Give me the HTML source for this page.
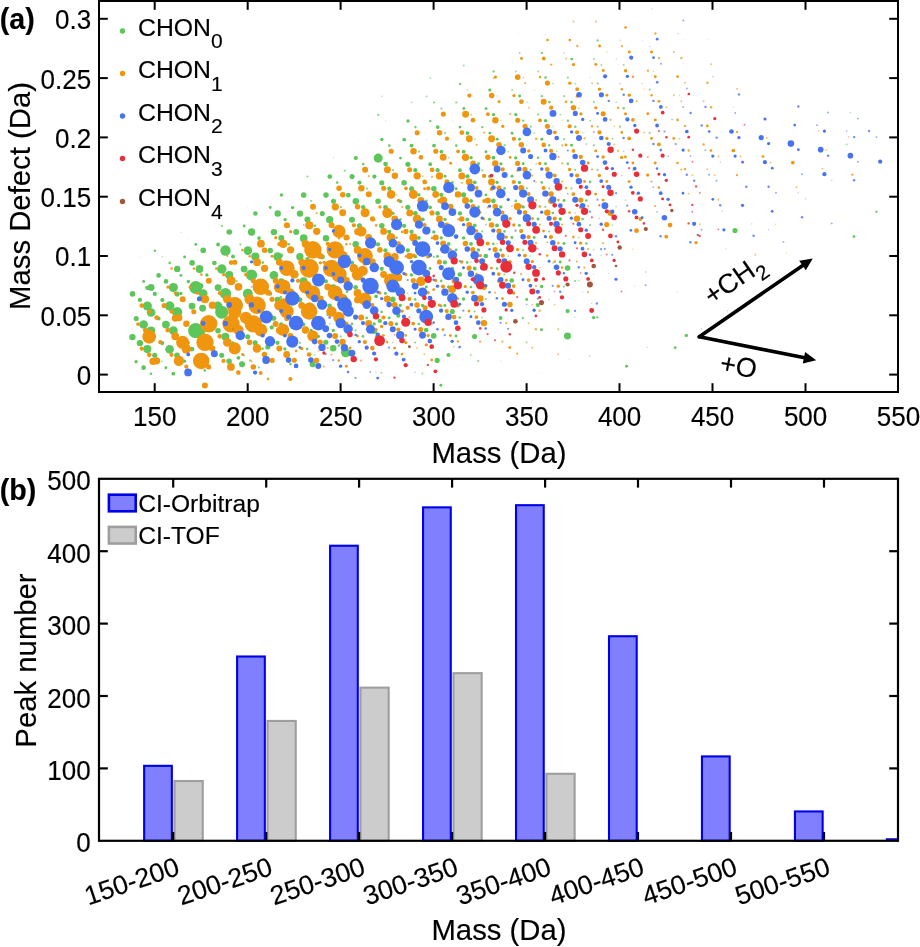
<!DOCTYPE html>
<html lang="en"><head><meta charset="utf-8"><title>Mass defect plot</title>
<style>html,body{margin:0;padding:0;background:#fff;}body{width:920px;height:947px;overflow:hidden;}svg{display:block;}text{font-family:'Liberation Sans', Arial, Helvetica, sans-serif;fill:#000;stroke:#000;stroke-width:0.15px;}</style>
</head><body>
<svg width="920" height="947" viewBox="0 0 920 947">
<rect x="-5" y="-5" width="930" height="957" fill="#ffffff"/>
<g style="filter:blur(0.55px)">
<rect x="-5" y="-5" width="930" height="957" fill="#ffffff"/>
<g id="scatter">
<circle cx="195.7" cy="330.7" r="7.59" fill="#5cc65a"/>
<circle cx="221.7" cy="312.2" r="6.50" fill="#5cc65a"/>
<circle cx="195.7" cy="287.5" r="6.50" fill="#5cc65a"/>
<circle cx="225.5" cy="293.6" r="5.63" fill="#5cc65a"/>
<circle cx="251.5" cy="275.1" r="5.63" fill="#5cc65a"/>
<circle cx="177.1" cy="312.1" r="5.19" fill="#5cc65a"/>
<circle cx="225.5" cy="250.5" r="5.19" fill="#5cc65a"/>
<circle cx="247.8" cy="293.7" r="4.97" fill="#5cc65a"/>
<circle cx="345.7" cy="352.6" r="4.76" fill="#5cc65a"/>
<circle cx="169.7" cy="306.0" r="4.76" fill="#5cc65a"/>
<circle cx="221.8" cy="269.0" r="4.76" fill="#5cc65a"/>
<circle cx="147.4" cy="306.0" r="4.54" fill="#5cc65a"/>
<circle cx="173.4" cy="287.5" r="4.54" fill="#5cc65a"/>
<circle cx="378.2" cy="158.1" r="4.54" fill="#5cc65a"/>
<circle cx="143.6" cy="324.5" r="4.32" fill="#5cc65a"/>
<circle cx="151.1" cy="312.5" r="4.32" fill="#5cc65a"/>
<circle cx="173.4" cy="330.6" r="4.32" fill="#5cc65a"/>
<circle cx="169.6" cy="349.2" r="4.32" fill="#5cc65a"/>
<circle cx="247.9" cy="250.6" r="4.32" fill="#5cc65a"/>
<circle cx="203.2" cy="293.6" r="4.32" fill="#5cc65a"/>
<circle cx="218.0" cy="305.7" r="4.32" fill="#5cc65a"/>
<circle cx="273.9" cy="275.2" r="4.32" fill="#5cc65a"/>
<circle cx="277.6" cy="256.6" r="4.32" fill="#5cc65a"/>
<circle cx="151.1" cy="330.6" r="4.10" fill="#5cc65a"/>
<circle cx="147.3" cy="349.1" r="4.10" fill="#5cc65a"/>
<circle cx="255.3" cy="256.6" r="4.10" fill="#5cc65a"/>
<circle cx="229.2" cy="275.1" r="4.10" fill="#5cc65a"/>
<circle cx="165.9" cy="324.6" r="3.88" fill="#5cc65a"/>
<circle cx="225.4" cy="336.7" r="3.88" fill="#5cc65a"/>
<circle cx="199.5" cy="269.0" r="3.88" fill="#5cc65a"/>
<circle cx="303.7" cy="238.2" r="3.88" fill="#5cc65a"/>
<circle cx="303.6" cy="281.2" r="3.88" fill="#5cc65a"/>
<circle cx="251.6" cy="232.0" r="3.66" fill="#5cc65a"/>
<circle cx="299.9" cy="256.7" r="3.66" fill="#5cc65a"/>
<circle cx="329.7" cy="219.7" r="3.66" fill="#5cc65a"/>
<circle cx="567.5" cy="336.1" r="3.49" fill="#5cc65a"/>
<circle cx="201.7" cy="331.7" r="3.44" fill="#5cc65a"/>
<circle cx="151.1" cy="287.4" r="3.44" fill="#5cc65a"/>
<circle cx="192.0" cy="306.1" r="3.44" fill="#5cc65a"/>
<circle cx="202.6" cy="308.3" r="3.44" fill="#5cc65a"/>
<circle cx="218.1" cy="287.6" r="3.44" fill="#5cc65a"/>
<circle cx="244.1" cy="269.1" r="3.44" fill="#5cc65a"/>
<circle cx="132.4" cy="337.1" r="3.22" fill="#5cc65a"/>
<circle cx="139.9" cy="343.1" r="3.22" fill="#5cc65a"/>
<circle cx="333.2" cy="348.3" r="3.22" fill="#5cc65a"/>
<circle cx="177.2" cy="268.9" r="3.22" fill="#5cc65a"/>
<circle cx="273.9" cy="232.1" r="3.22" fill="#5cc65a"/>
<circle cx="326.0" cy="238.2" r="3.22" fill="#5cc65a"/>
<circle cx="355.7" cy="244.3" r="3.22" fill="#5cc65a"/>
<circle cx="277.7" cy="213.5" r="3.22" fill="#5cc65a"/>
<circle cx="355.8" cy="201.2" r="3.22" fill="#5cc65a"/>
<circle cx="300.0" cy="213.6" r="3.22" fill="#5cc65a"/>
<circle cx="242.0" cy="364.3" r="3.00" fill="#5cc65a"/>
<circle cx="312.6" cy="364.3" r="3.00" fill="#5cc65a"/>
<circle cx="374.2" cy="330.9" r="3.00" fill="#5cc65a"/>
<circle cx="277.5" cy="299.7" r="3.00" fill="#5cc65a"/>
<circle cx="281.3" cy="238.1" r="3.00" fill="#5cc65a"/>
<circle cx="281.3" cy="281.2" r="3.00" fill="#5cc65a"/>
<circle cx="296.2" cy="232.1" r="3.00" fill="#5cc65a"/>
<circle cx="333.3" cy="287.3" r="3.00" fill="#5cc65a"/>
<circle cx="307.4" cy="219.6" r="3.00" fill="#5cc65a"/>
<circle cx="352.0" cy="219.7" r="3.00" fill="#5cc65a"/>
<circle cx="177.0" cy="355.2" r="2.78" fill="#5cc65a"/>
<circle cx="218.0" cy="330.7" r="2.78" fill="#5cc65a"/>
<circle cx="229.1" cy="361.3" r="2.78" fill="#5cc65a"/>
<circle cx="433.7" cy="335.9" r="2.78" fill="#5cc65a"/>
<circle cx="132.5" cy="293.9" r="2.78" fill="#5cc65a"/>
<circle cx="192.1" cy="262.9" r="2.78" fill="#5cc65a"/>
<circle cx="229.3" cy="232.0" r="2.78" fill="#5cc65a"/>
<circle cx="270.2" cy="250.6" r="2.78" fill="#5cc65a"/>
<circle cx="203.2" cy="250.4" r="2.78" fill="#5cc65a"/>
<circle cx="392.8" cy="299.4" r="2.78" fill="#5cc65a"/>
<circle cx="567.6" cy="268.0" r="2.78" fill="#5cc65a"/>
<circle cx="303.7" cy="195.1" r="2.78" fill="#5cc65a"/>
<circle cx="326.0" cy="195.1" r="2.78" fill="#5cc65a"/>
<circle cx="404.1" cy="182.7" r="2.78" fill="#5cc65a"/>
<circle cx="433.9" cy="188.8" r="2.78" fill="#5cc65a"/>
<circle cx="378.1" cy="201.2" r="2.78" fill="#5cc65a"/>
<circle cx="381.8" cy="225.8" r="2.78" fill="#5cc65a"/>
<circle cx="735.0" cy="230.6" r="2.58" fill="#5cc65a"/>
<circle cx="136.2" cy="318.5" r="2.56" fill="#5cc65a"/>
<circle cx="154.7" cy="355.2" r="2.56" fill="#5cc65a"/>
<circle cx="247.7" cy="336.8" r="2.56" fill="#5cc65a"/>
<circle cx="255.2" cy="342.8" r="2.56" fill="#5cc65a"/>
<circle cx="251.5" cy="318.2" r="2.56" fill="#5cc65a"/>
<circle cx="273.8" cy="318.3" r="2.56" fill="#5cc65a"/>
<circle cx="267.8" cy="347.0" r="2.56" fill="#5cc65a"/>
<circle cx="221.7" cy="355.3" r="2.56" fill="#5cc65a"/>
<circle cx="325.8" cy="342.2" r="2.56" fill="#5cc65a"/>
<circle cx="437.2" cy="360.4" r="2.56" fill="#5cc65a"/>
<circle cx="452.3" cy="311.5" r="2.56" fill="#5cc65a"/>
<circle cx="474.6" cy="336.5" r="2.56" fill="#5cc65a"/>
<circle cx="177.1" cy="294.0" r="2.56" fill="#5cc65a"/>
<circle cx="200.9" cy="285.7" r="2.56" fill="#5cc65a"/>
<circle cx="299.8" cy="299.8" r="2.56" fill="#5cc65a"/>
<circle cx="322.2" cy="256.7" r="2.56" fill="#5cc65a"/>
<circle cx="333.4" cy="244.2" r="2.56" fill="#5cc65a"/>
<circle cx="352.1" cy="176.6" r="2.56" fill="#5cc65a"/>
<circle cx="333.5" cy="201.2" r="2.56" fill="#5cc65a"/>
<circle cx="322.3" cy="213.6" r="2.56" fill="#5cc65a"/>
<circle cx="359.5" cy="225.7" r="2.56" fill="#5cc65a"/>
<circle cx="407.9" cy="164.2" r="2.56" fill="#5cc65a"/>
<circle cx="381.8" cy="182.7" r="2.56" fill="#5cc65a"/>
<circle cx="411.6" cy="188.7" r="2.56" fill="#5cc65a"/>
<circle cx="407.8" cy="207.3" r="2.56" fill="#5cc65a"/>
<circle cx="463.6" cy="194.8" r="2.56" fill="#5cc65a"/>
<circle cx="143.6" cy="367.7" r="2.34" fill="#5cc65a"/>
<circle cx="191.9" cy="349.2" r="2.34" fill="#5cc65a"/>
<circle cx="426.2" cy="330.0" r="2.34" fill="#5cc65a"/>
<circle cx="158.6" cy="275.4" r="2.34" fill="#5cc65a"/>
<circle cx="166.0" cy="281.4" r="2.34" fill="#5cc65a"/>
<circle cx="214.4" cy="263.0" r="2.34" fill="#5cc65a"/>
<circle cx="329.6" cy="305.8" r="2.34" fill="#5cc65a"/>
<circle cx="355.6" cy="287.3" r="2.34" fill="#5cc65a"/>
<circle cx="459.8" cy="274.5" r="2.34" fill="#5cc65a"/>
<circle cx="485.8" cy="256.0" r="2.34" fill="#5cc65a"/>
<circle cx="511.8" cy="280.5" r="2.34" fill="#5cc65a"/>
<circle cx="255.4" cy="213.5" r="2.34" fill="#5cc65a"/>
<circle cx="329.8" cy="176.6" r="2.34" fill="#5cc65a"/>
<circle cx="348.3" cy="195.2" r="2.34" fill="#5cc65a"/>
<circle cx="385.6" cy="164.1" r="2.34" fill="#5cc65a"/>
<circle cx="385.5" cy="207.3" r="2.34" fill="#5cc65a"/>
<circle cx="415.3" cy="213.3" r="2.34" fill="#5cc65a"/>
<circle cx="437.6" cy="213.3" r="2.34" fill="#5cc65a"/>
<circle cx="493.4" cy="200.9" r="2.34" fill="#5cc65a"/>
<circle cx="162.2" cy="343.1" r="2.12" fill="#5cc65a"/>
<circle cx="158.5" cy="318.5" r="2.12" fill="#5cc65a"/>
<circle cx="271.7" cy="327.4" r="2.12" fill="#5cc65a"/>
<circle cx="277.5" cy="342.8" r="2.12" fill="#5cc65a"/>
<circle cx="281.2" cy="324.3" r="2.12" fill="#5cc65a"/>
<circle cx="379.8" cy="320.9" r="2.12" fill="#5cc65a"/>
<circle cx="398.3" cy="315.7" r="2.12" fill="#5cc65a"/>
<circle cx="448.5" cy="355.0" r="2.12" fill="#5cc65a"/>
<circle cx="139.9" cy="299.9" r="2.12" fill="#5cc65a"/>
<circle cx="147.4" cy="287.9" r="2.12" fill="#5cc65a"/>
<circle cx="154.8" cy="293.9" r="2.12" fill="#5cc65a"/>
<circle cx="162.3" cy="300.0" r="2.12" fill="#5cc65a"/>
<circle cx="270.1" cy="293.7" r="2.12" fill="#5cc65a"/>
<circle cx="280.9" cy="255.7" r="2.12" fill="#5cc65a"/>
<circle cx="285.0" cy="262.7" r="2.12" fill="#5cc65a"/>
<circle cx="296.2" cy="275.2" r="2.12" fill="#5cc65a"/>
<circle cx="307.4" cy="259.1" r="2.12" fill="#5cc65a"/>
<circle cx="325.9" cy="281.3" r="2.12" fill="#5cc65a"/>
<circle cx="307.3" cy="305.8" r="2.12" fill="#5cc65a"/>
<circle cx="352.0" cy="262.8" r="2.12" fill="#5cc65a"/>
<circle cx="329.7" cy="262.8" r="2.12" fill="#5cc65a"/>
<circle cx="378.0" cy="244.3" r="2.12" fill="#5cc65a"/>
<circle cx="385.4" cy="250.3" r="2.12" fill="#5cc65a"/>
<circle cx="381.7" cy="268.8" r="2.12" fill="#5cc65a"/>
<circle cx="389.2" cy="231.8" r="2.12" fill="#5cc65a"/>
<circle cx="407.8" cy="250.3" r="2.12" fill="#5cc65a"/>
<circle cx="411.5" cy="231.8" r="2.12" fill="#5cc65a"/>
<circle cx="444.9" cy="262.4" r="2.12" fill="#5cc65a"/>
<circle cx="537.8" cy="305.1" r="2.12" fill="#5cc65a"/>
<circle cx="355.8" cy="158.0" r="2.12" fill="#5cc65a"/>
<circle cx="359.5" cy="182.6" r="2.12" fill="#5cc65a"/>
<circle cx="415.3" cy="170.2" r="2.12" fill="#5cc65a"/>
<circle cx="437.6" cy="170.2" r="2.12" fill="#5cc65a"/>
<circle cx="374.4" cy="176.6" r="2.12" fill="#5cc65a"/>
<circle cx="389.3" cy="188.7" r="2.12" fill="#5cc65a"/>
<circle cx="363.2" cy="207.2" r="2.12" fill="#5cc65a"/>
<circle cx="404.1" cy="225.8" r="2.12" fill="#5cc65a"/>
<circle cx="467.4" cy="176.3" r="2.12" fill="#5cc65a"/>
<circle cx="441.3" cy="194.8" r="2.12" fill="#5cc65a"/>
<circle cx="459.9" cy="213.4" r="2.12" fill="#5cc65a"/>
<circle cx="567.6" cy="311.1" r="2.09" fill="#5cc65a"/>
<circle cx="173.3" cy="373.7" r="1.89" fill="#5cc65a"/>
<circle cx="238.4" cy="357.8" r="1.89" fill="#5cc65a"/>
<circle cx="303.5" cy="324.3" r="1.89" fill="#5cc65a"/>
<circle cx="500.6" cy="318.0" r="1.89" fill="#5cc65a"/>
<circle cx="259.0" cy="238.1" r="1.89" fill="#5cc65a"/>
<circle cx="218.1" cy="244.5" r="1.89" fill="#5cc65a"/>
<circle cx="233.0" cy="256.5" r="1.89" fill="#5cc65a"/>
<circle cx="376.1" cy="296.3" r="1.89" fill="#5cc65a"/>
<circle cx="418.9" cy="237.9" r="1.89" fill="#5cc65a"/>
<circle cx="415.2" cy="256.4" r="1.89" fill="#5cc65a"/>
<circle cx="448.7" cy="243.9" r="1.89" fill="#5cc65a"/>
<circle cx="471.0" cy="243.9" r="1.89" fill="#5cc65a"/>
<circle cx="474.7" cy="268.5" r="1.89" fill="#5cc65a"/>
<circle cx="430.2" cy="164.2" r="1.89" fill="#5cc65a"/>
<circle cx="400.4" cy="201.3" r="1.89" fill="#5cc65a"/>
<circle cx="430.1" cy="207.3" r="1.89" fill="#5cc65a"/>
<circle cx="422.7" cy="219.3" r="1.89" fill="#5cc65a"/>
<circle cx="441.4" cy="151.7" r="1.89" fill="#5cc65a"/>
<circle cx="463.7" cy="151.7" r="1.89" fill="#5cc65a"/>
<circle cx="493.4" cy="157.7" r="1.89" fill="#5cc65a"/>
<circle cx="459.9" cy="170.2" r="1.89" fill="#5cc65a"/>
<circle cx="474.8" cy="182.3" r="1.89" fill="#5cc65a"/>
<circle cx="471.1" cy="200.9" r="1.89" fill="#5cc65a"/>
<circle cx="467.3" cy="219.4" r="1.89" fill="#5cc65a"/>
<circle cx="474.7" cy="225.4" r="1.89" fill="#5cc65a"/>
<circle cx="497.0" cy="225.4" r="1.89" fill="#5cc65a"/>
<circle cx="437.7" cy="127.1" r="1.89" fill="#5cc65a"/>
<circle cx="404.2" cy="139.6" r="1.89" fill="#5cc65a"/>
<circle cx="411.6" cy="145.6" r="1.89" fill="#5cc65a"/>
<circle cx="434.0" cy="145.6" r="1.89" fill="#5cc65a"/>
<circle cx="467.4" cy="133.1" r="1.89" fill="#5cc65a"/>
<circle cx="593.6" cy="317.6" r="1.69" fill="#5cc65a"/>
<circle cx="686.3" cy="335.4" r="1.69" fill="#5cc65a"/>
<circle cx="136.1" cy="361.7" r="1.67" fill="#5cc65a"/>
<circle cx="188.2" cy="342.7" r="1.67" fill="#5cc65a"/>
<circle cx="184.5" cy="361.2" r="1.67" fill="#5cc65a"/>
<circle cx="232.8" cy="342.8" r="1.67" fill="#5cc65a"/>
<circle cx="311.0" cy="330.4" r="1.67" fill="#5cc65a"/>
<circle cx="318.4" cy="336.4" r="1.67" fill="#5cc65a"/>
<circle cx="333.3" cy="330.4" r="1.67" fill="#5cc65a"/>
<circle cx="350.0" cy="314.8" r="1.67" fill="#5cc65a"/>
<circle cx="284.9" cy="348.9" r="1.67" fill="#5cc65a"/>
<circle cx="374.2" cy="323.9" r="1.67" fill="#5cc65a"/>
<circle cx="396.5" cy="324.0" r="1.67" fill="#5cc65a"/>
<circle cx="180.9" cy="293.5" r="1.67" fill="#5cc65a"/>
<circle cx="188.3" cy="281.5" r="1.67" fill="#5cc65a"/>
<circle cx="206.9" cy="275.0" r="1.67" fill="#5cc65a"/>
<circle cx="311.1" cy="244.2" r="1.67" fill="#5cc65a"/>
<circle cx="400.2" cy="305.4" r="1.67" fill="#5cc65a"/>
<circle cx="411.4" cy="274.9" r="1.67" fill="#5cc65a"/>
<circle cx="422.5" cy="305.5" r="1.67" fill="#5cc65a"/>
<circle cx="433.8" cy="231.9" r="1.67" fill="#5cc65a"/>
<circle cx="441.2" cy="237.9" r="1.67" fill="#5cc65a"/>
<circle cx="452.4" cy="268.4" r="1.67" fill="#5cc65a"/>
<circle cx="448.6" cy="287.0" r="1.67" fill="#5cc65a"/>
<circle cx="463.5" cy="299.0" r="1.67" fill="#5cc65a"/>
<circle cx="463.6" cy="237.9" r="1.67" fill="#5cc65a"/>
<circle cx="478.4" cy="249.9" r="1.67" fill="#5cc65a"/>
<circle cx="541.6" cy="286.5" r="1.67" fill="#5cc65a"/>
<circle cx="281.4" cy="195.0" r="1.67" fill="#5cc65a"/>
<circle cx="292.6" cy="207.6" r="1.67" fill="#5cc65a"/>
<circle cx="285.1" cy="219.6" r="1.67" fill="#5cc65a"/>
<circle cx="419.0" cy="194.8" r="1.67" fill="#5cc65a"/>
<circle cx="392.9" cy="213.3" r="1.67" fill="#5cc65a"/>
<circle cx="471.1" cy="157.7" r="1.67" fill="#5cc65a"/>
<circle cx="500.9" cy="163.8" r="1.67" fill="#5cc65a"/>
<circle cx="515.7" cy="157.8" r="1.67" fill="#5cc65a"/>
<circle cx="519.4" cy="182.4" r="1.67" fill="#5cc65a"/>
<circle cx="445.0" cy="219.4" r="1.67" fill="#5cc65a"/>
<circle cx="489.7" cy="176.3" r="1.67" fill="#5cc65a"/>
<circle cx="497.1" cy="182.3" r="1.67" fill="#5cc65a"/>
<circle cx="500.8" cy="206.9" r="1.67" fill="#5cc65a"/>
<circle cx="489.6" cy="219.4" r="1.67" fill="#5cc65a"/>
<circle cx="560.3" cy="219.0" r="1.67" fill="#5cc65a"/>
<circle cx="523.1" cy="206.9" r="1.67" fill="#5cc65a"/>
<circle cx="408.0" cy="121.0" r="1.67" fill="#5cc65a"/>
<circle cx="381.9" cy="139.5" r="1.67" fill="#5cc65a"/>
<circle cx="493.5" cy="114.6" r="1.67" fill="#5cc65a"/>
<circle cx="515.8" cy="114.6" r="1.67" fill="#5cc65a"/>
<circle cx="545.6" cy="120.7" r="1.67" fill="#5cc65a"/>
<circle cx="489.8" cy="90.0" r="1.57" fill="#5cc65a"/>
<circle cx="541.5" cy="329.7" r="1.48" fill="#5cc65a"/>
<circle cx="626.6" cy="366.3" r="1.48" fill="#5cc65a"/>
<circle cx="165.9" cy="367.7" r="1.44" fill="#5cc65a"/>
<circle cx="389.1" cy="317.9" r="1.44" fill="#5cc65a"/>
<circle cx="456.0" cy="336.0" r="1.44" fill="#5cc65a"/>
<circle cx="440.9" cy="385.2" r="1.44" fill="#5cc65a"/>
<circle cx="143.7" cy="281.4" r="1.44" fill="#5cc65a"/>
<circle cx="180.9" cy="275.4" r="1.44" fill="#5cc65a"/>
<circle cx="184.6" cy="256.9" r="1.44" fill="#5cc65a"/>
<circle cx="195.8" cy="244.4" r="1.44" fill="#5cc65a"/>
<circle cx="385.4" cy="293.4" r="1.44" fill="#5cc65a"/>
<circle cx="430.0" cy="268.4" r="1.44" fill="#5cc65a"/>
<circle cx="426.3" cy="286.9" r="1.44" fill="#5cc65a"/>
<circle cx="437.5" cy="256.4" r="1.44" fill="#5cc65a"/>
<circle cx="456.1" cy="249.9" r="1.44" fill="#5cc65a"/>
<circle cx="444.9" cy="305.5" r="1.44" fill="#5cc65a"/>
<circle cx="511.9" cy="237.5" r="1.44" fill="#5cc65a"/>
<circle cx="500.7" cy="250.0" r="1.44" fill="#5cc65a"/>
<circle cx="534.2" cy="237.5" r="1.44" fill="#5cc65a"/>
<circle cx="526.7" cy="299.5" r="1.44" fill="#5cc65a"/>
<circle cx="564.0" cy="243.5" r="1.44" fill="#5cc65a"/>
<circle cx="560.2" cy="262.0" r="1.44" fill="#5cc65a"/>
<circle cx="270.2" cy="207.5" r="1.44" fill="#5cc65a"/>
<circle cx="244.2" cy="226.0" r="1.44" fill="#5cc65a"/>
<circle cx="400.5" cy="158.1" r="1.44" fill="#5cc65a"/>
<circle cx="478.5" cy="163.8" r="1.44" fill="#5cc65a"/>
<circle cx="486.0" cy="151.7" r="1.44" fill="#5cc65a"/>
<circle cx="512.0" cy="176.3" r="1.44" fill="#5cc65a"/>
<circle cx="445.1" cy="176.3" r="1.44" fill="#5cc65a"/>
<circle cx="456.2" cy="188.8" r="1.44" fill="#5cc65a"/>
<circle cx="478.5" cy="206.9" r="1.44" fill="#5cc65a"/>
<circle cx="485.9" cy="194.9" r="1.44" fill="#5cc65a"/>
<circle cx="519.4" cy="225.4" r="1.44" fill="#5cc65a"/>
<circle cx="523.2" cy="163.8" r="1.44" fill="#5cc65a"/>
<circle cx="545.5" cy="163.8" r="1.44" fill="#5cc65a"/>
<circle cx="564.0" cy="200.5" r="1.44" fill="#5cc65a"/>
<circle cx="538.0" cy="219.0" r="1.44" fill="#5cc65a"/>
<circle cx="519.6" cy="96.0" r="1.44" fill="#5cc65a"/>
<circle cx="463.8" cy="108.5" r="1.44" fill="#5cc65a"/>
<circle cx="486.1" cy="108.6" r="1.44" fill="#5cc65a"/>
<circle cx="460.0" cy="127.1" r="1.44" fill="#5cc65a"/>
<circle cx="489.8" cy="133.1" r="1.44" fill="#5cc65a"/>
<circle cx="512.1" cy="133.2" r="1.44" fill="#5cc65a"/>
<circle cx="497.2" cy="139.2" r="1.44" fill="#5cc65a"/>
<circle cx="519.5" cy="139.2" r="1.44" fill="#5cc65a"/>
<circle cx="541.8" cy="139.2" r="1.44" fill="#5cc65a"/>
<circle cx="571.5" cy="145.3" r="1.44" fill="#5cc65a"/>
<circle cx="854.0" cy="236.6" r="1.34" fill="#5cc65a"/>
<circle cx="675.2" cy="347.7" r="1.37" fill="#5cc65a" fill-opacity="0.97"/>
<circle cx="571.7" cy="59.0" r="1.37" fill="#5cc65a" fill-opacity="0.97"/>
<circle cx="151.0" cy="373.7" r="1.30" fill="#5cc65a" fill-opacity="0.91"/>
<circle cx="204.8" cy="370.4" r="1.30" fill="#5cc65a" fill-opacity="0.91"/>
<circle cx="262.6" cy="348.8" r="1.30" fill="#5cc65a" fill-opacity="0.91"/>
<circle cx="338.9" cy="345.5" r="1.30" fill="#5cc65a" fill-opacity="0.91"/>
<circle cx="351.9" cy="323.9" r="1.30" fill="#5cc65a" fill-opacity="0.91"/>
<circle cx="327.7" cy="314.8" r="1.30" fill="#5cc65a" fill-opacity="0.91"/>
<circle cx="290.4" cy="364.1" r="1.30" fill="#5cc65a" fill-opacity="0.91"/>
<circle cx="307.2" cy="348.9" r="1.30" fill="#5cc65a" fill-opacity="0.91"/>
<circle cx="366.7" cy="317.9" r="1.30" fill="#5cc65a" fill-opacity="0.91"/>
<circle cx="363.0" cy="336.4" r="1.30" fill="#5cc65a" fill-opacity="0.91"/>
<circle cx="418.8" cy="324.0" r="1.30" fill="#5cc65a" fill-opacity="0.91"/>
<circle cx="381.6" cy="311.9" r="1.30" fill="#5cc65a" fill-opacity="0.91"/>
<circle cx="459.7" cy="317.5" r="1.30" fill="#5cc65a" fill-opacity="0.91"/>
<circle cx="169.7" cy="262.9" r="1.30" fill="#5cc65a" fill-opacity="0.91"/>
<circle cx="154.9" cy="250.8" r="1.30" fill="#5cc65a" fill-opacity="0.91"/>
<circle cx="262.7" cy="262.6" r="1.30" fill="#5cc65a" fill-opacity="0.91"/>
<circle cx="288.8" cy="244.2" r="1.30" fill="#5cc65a" fill-opacity="0.91"/>
<circle cx="280.9" cy="297.4" r="1.30" fill="#5cc65a" fill-opacity="0.91"/>
<circle cx="318.5" cy="257.2" r="1.30" fill="#5cc65a" fill-opacity="0.91"/>
<circle cx="347.0" cy="291.7" r="1.30" fill="#5cc65a" fill-opacity="0.91"/>
<circle cx="348.3" cy="238.2" r="1.30" fill="#5cc65a" fill-opacity="0.91"/>
<circle cx="348.3" cy="256.3" r="1.30" fill="#5cc65a" fill-opacity="0.91"/>
<circle cx="396.6" cy="237.8" r="1.30" fill="#5cc65a" fill-opacity="0.91"/>
<circle cx="415.1" cy="299.4" r="1.30" fill="#5cc65a" fill-opacity="0.91"/>
<circle cx="441.2" cy="280.9" r="1.30" fill="#5cc65a" fill-opacity="0.91"/>
<circle cx="441.1" cy="305.9" r="1.30" fill="#5cc65a" fill-opacity="0.91"/>
<circle cx="467.2" cy="262.4" r="1.30" fill="#5cc65a" fill-opacity="0.91"/>
<circle cx="470.9" cy="287.0" r="1.30" fill="#5cc65a" fill-opacity="0.91"/>
<circle cx="504.5" cy="231.4" r="1.30" fill="#5cc65a" fill-opacity="0.91"/>
<circle cx="493.3" cy="243.9" r="1.30" fill="#5cc65a" fill-opacity="0.91"/>
<circle cx="497.0" cy="268.5" r="1.30" fill="#5cc65a" fill-opacity="0.91"/>
<circle cx="586.3" cy="243.5" r="1.30" fill="#5cc65a" fill-opacity="0.91"/>
<circle cx="337.2" cy="182.6" r="1.30" fill="#5cc65a" fill-opacity="0.91"/>
<circle cx="314.8" cy="225.7" r="1.30" fill="#5cc65a" fill-opacity="0.91"/>
<circle cx="288.8" cy="226.1" r="1.30" fill="#5cc65a" fill-opacity="0.91"/>
<circle cx="363.3" cy="164.1" r="1.30" fill="#5cc65a" fill-opacity="0.91"/>
<circle cx="426.4" cy="200.8" r="1.30" fill="#5cc65a" fill-opacity="0.91"/>
<circle cx="374.3" cy="219.7" r="1.30" fill="#5cc65a" fill-opacity="0.91"/>
<circle cx="400.4" cy="219.3" r="1.30" fill="#5cc65a" fill-opacity="0.91"/>
<circle cx="452.5" cy="182.3" r="1.30" fill="#5cc65a" fill-opacity="0.91"/>
<circle cx="504.5" cy="188.4" r="1.30" fill="#5cc65a" fill-opacity="0.91"/>
<circle cx="515.7" cy="200.9" r="1.30" fill="#5cc65a" fill-opacity="0.91"/>
<circle cx="538.1" cy="157.8" r="1.30" fill="#5cc65a" fill-opacity="0.91"/>
<circle cx="541.7" cy="182.4" r="1.30" fill="#5cc65a" fill-opacity="0.91"/>
<circle cx="552.8" cy="213.0" r="1.30" fill="#5cc65a" fill-opacity="0.91"/>
<circle cx="567.8" cy="163.8" r="1.30" fill="#5cc65a" fill-opacity="0.91"/>
<circle cx="590.1" cy="181.9" r="1.30" fill="#5cc65a" fill-opacity="0.91"/>
<circle cx="586.3" cy="200.5" r="1.30" fill="#5cc65a" fill-opacity="0.91"/>
<circle cx="582.6" cy="219.0" r="1.30" fill="#5cc65a" fill-opacity="0.91"/>
<circle cx="389.3" cy="145.6" r="1.30" fill="#5cc65a" fill-opacity="0.91"/>
<circle cx="456.3" cy="145.6" r="1.30" fill="#5cc65a" fill-opacity="0.91"/>
<circle cx="545.6" cy="77.5" r="1.30" fill="#5cc65a" fill-opacity="0.91"/>
<circle cx="549.3" cy="102.1" r="1.30" fill="#5cc65a" fill-opacity="0.91"/>
<circle cx="571.6" cy="102.1" r="1.30" fill="#5cc65a" fill-opacity="0.91"/>
<circle cx="430.3" cy="121.0" r="1.22" fill="#5cc65a" fill-opacity="0.83"/>
<circle cx="415.4" cy="127.0" r="1.22" fill="#5cc65a" fill-opacity="0.83"/>
<circle cx="460.1" cy="83.9" r="1.22" fill="#5cc65a" fill-opacity="0.83"/>
<circle cx="482.3" cy="127.1" r="1.22" fill="#5cc65a" fill-opacity="0.83"/>
<circle cx="541.9" cy="96.1" r="1.22" fill="#5cc65a" fill-opacity="0.83"/>
<circle cx="523.2" cy="120.6" r="1.22" fill="#5cc65a" fill-opacity="0.83"/>
<circle cx="567.9" cy="120.7" r="1.22" fill="#5cc65a" fill-opacity="0.83"/>
<circle cx="575.3" cy="126.7" r="1.22" fill="#5cc65a" fill-opacity="0.83"/>
<circle cx="549.2" cy="145.3" r="1.22" fill="#5cc65a" fill-opacity="0.83"/>
<circle cx="623.7" cy="108.2" r="1.22" fill="#5cc65a" fill-opacity="0.83"/>
<circle cx="876.4" cy="211.7" r="1.20" fill="#5cc65a" fill-opacity="0.81"/>
<circle cx="522.9" cy="318.0" r="1.17" fill="#5cc65a" fill-opacity="0.79"/>
<circle cx="597.3" cy="317.2" r="1.17" fill="#5cc65a" fill-opacity="0.79"/>
<circle cx="597.7" cy="40.4" r="1.17" fill="#5cc65a" fill-opacity="0.79"/>
<circle cx="541.9" cy="52.9" r="1.17" fill="#5cc65a" fill-opacity="0.79"/>
<circle cx="493.6" cy="71.4" r="1.17" fill="#5cc65a" fill-opacity="0.79"/>
<circle cx="244.0" cy="355.3" r="1.09" fill="#5cc65a" fill-opacity="0.72"/>
<circle cx="251.4" cy="361.3" r="1.09" fill="#5cc65a" fill-opacity="0.72"/>
<circle cx="258.8" cy="367.4" r="1.09" fill="#5cc65a" fill-opacity="0.72"/>
<circle cx="299.8" cy="342.9" r="1.09" fill="#5cc65a" fill-opacity="0.72"/>
<circle cx="340.7" cy="336.4" r="1.09" fill="#5cc65a" fill-opacity="0.72"/>
<circle cx="355.6" cy="330.4" r="1.09" fill="#5cc65a" fill-opacity="0.72"/>
<circle cx="415.1" cy="342.5" r="1.09" fill="#5cc65a" fill-opacity="0.72"/>
<circle cx="478.2" cy="361.0" r="1.09" fill="#5cc65a" fill-opacity="0.72"/>
<circle cx="474.6" cy="311.5" r="1.09" fill="#5cc65a" fill-opacity="0.72"/>
<circle cx="240.4" cy="244.5" r="1.09" fill="#5cc65a" fill-opacity="0.72"/>
<circle cx="236.7" cy="281.1" r="1.09" fill="#5cc65a" fill-opacity="0.72"/>
<circle cx="288.8" cy="251.1" r="1.09" fill="#5cc65a" fill-opacity="0.72"/>
<circle cx="433.8" cy="256.9" r="1.09" fill="#5cc65a" fill-opacity="0.72"/>
<circle cx="482.2" cy="231.4" r="1.09" fill="#5cc65a" fill-opacity="0.72"/>
<circle cx="485.8" cy="299.0" r="1.09" fill="#5cc65a" fill-opacity="0.72"/>
<circle cx="504.4" cy="274.5" r="1.09" fill="#5cc65a" fill-opacity="0.72"/>
<circle cx="549.1" cy="231.5" r="1.09" fill="#5cc65a" fill-opacity="0.72"/>
<circle cx="523.0" cy="250.0" r="1.09" fill="#5cc65a" fill-opacity="0.72"/>
<circle cx="575.0" cy="281.0" r="1.09" fill="#5cc65a" fill-opacity="0.72"/>
<circle cx="563.9" cy="286.6" r="1.09" fill="#5cc65a" fill-opacity="0.72"/>
<circle cx="221.9" cy="225.9" r="1.09" fill="#5cc65a" fill-opacity="0.72"/>
<circle cx="344.7" cy="170.6" r="1.09" fill="#5cc65a" fill-opacity="0.72"/>
<circle cx="307.5" cy="176.5" r="1.09" fill="#5cc65a" fill-opacity="0.72"/>
<circle cx="311.2" cy="201.1" r="1.09" fill="#5cc65a" fill-opacity="0.72"/>
<circle cx="340.9" cy="207.2" r="1.09" fill="#5cc65a" fill-opacity="0.72"/>
<circle cx="419.1" cy="151.6" r="1.09" fill="#5cc65a" fill-opacity="0.72"/>
<circle cx="393.0" cy="170.2" r="1.09" fill="#5cc65a" fill-opacity="0.72"/>
<circle cx="426.5" cy="182.7" r="1.09" fill="#5cc65a" fill-opacity="0.72"/>
<circle cx="367.0" cy="188.7" r="1.09" fill="#5cc65a" fill-opacity="0.72"/>
<circle cx="482.3" cy="170.3" r="1.09" fill="#5cc65a" fill-opacity="0.72"/>
<circle cx="597.5" cy="169.9" r="1.09" fill="#5cc65a" fill-opacity="0.72"/>
<circle cx="530.6" cy="169.8" r="1.09" fill="#5cc65a" fill-opacity="0.72"/>
<circle cx="526.9" cy="188.4" r="1.09" fill="#5cc65a" fill-opacity="0.72"/>
<circle cx="549.2" cy="188.4" r="1.09" fill="#5cc65a" fill-opacity="0.72"/>
<circle cx="545.4" cy="206.9" r="1.09" fill="#5cc65a" fill-opacity="0.72"/>
<circle cx="575.2" cy="169.9" r="1.09" fill="#5cc65a" fill-opacity="0.72"/>
<circle cx="571.5" cy="188.4" r="1.09" fill="#5cc65a" fill-opacity="0.72"/>
<circle cx="590.0" cy="225.0" r="1.09" fill="#5cc65a" fill-opacity="0.72"/>
<circle cx="434.0" cy="102.5" r="1.09" fill="#5cc65a" fill-opacity="0.72"/>
<circle cx="378.2" cy="114.9" r="1.09" fill="#5cc65a" fill-opacity="0.72"/>
<circle cx="456.3" cy="102.5" r="1.09" fill="#5cc65a" fill-opacity="0.72"/>
<circle cx="441.5" cy="108.5" r="1.09" fill="#5cc65a" fill-opacity="0.72"/>
<circle cx="445.1" cy="133.1" r="1.09" fill="#5cc65a" fill-opacity="0.72"/>
<circle cx="504.6" cy="145.2" r="1.09" fill="#5cc65a" fill-opacity="0.72"/>
<circle cx="567.9" cy="77.5" r="1.09" fill="#5cc65a" fill-opacity="0.72"/>
<circle cx="597.7" cy="83.6" r="1.09" fill="#5cc65a" fill-opacity="0.72"/>
<circle cx="564.2" cy="96.1" r="1.09" fill="#5cc65a" fill-opacity="0.72"/>
<circle cx="593.9" cy="102.1" r="1.09" fill="#5cc65a" fill-opacity="0.72"/>
<circle cx="538.1" cy="114.6" r="1.09" fill="#5cc65a" fill-opacity="0.72"/>
<circle cx="530.7" cy="126.7" r="1.09" fill="#5cc65a" fill-opacity="0.72"/>
<circle cx="597.6" cy="126.7" r="1.09" fill="#5cc65a" fill-opacity="0.72"/>
<circle cx="564.1" cy="139.2" r="1.09" fill="#5cc65a" fill-opacity="0.72"/>
<circle cx="593.9" cy="145.3" r="1.09" fill="#5cc65a" fill-opacity="0.72"/>
<circle cx="649.7" cy="89.6" r="1.09" fill="#5cc65a" fill-opacity="0.72"/>
<circle cx="649.7" cy="132.8" r="1.09" fill="#5cc65a" fill-opacity="0.72"/>
<circle cx="619.9" cy="126.7" r="1.09" fill="#5cc65a" fill-opacity="0.72"/>
<circle cx="526.6" cy="342.5" r="0.98" fill="#5cc65a" fill-opacity="0.62"/>
<circle cx="519.6" cy="52.9" r="0.98" fill="#5cc65a" fill-opacity="0.62"/>
<circle cx="594.0" cy="59.0" r="0.98" fill="#5cc65a" fill-opacity="0.62"/>
<circle cx="601.4" cy="65.0" r="0.98" fill="#5cc65a" fill-opacity="0.62"/>
<circle cx="463.8" cy="65.4" r="0.98" fill="#5cc65a" fill-opacity="0.62"/>
<circle cx="515.9" cy="71.5" r="0.98" fill="#5cc65a" fill-opacity="0.62"/>
<circle cx="538.2" cy="71.5" r="0.98" fill="#5cc65a" fill-opacity="0.62"/>
<circle cx="623.7" cy="65.0" r="0.98" fill="#5cc65a" fill-opacity="0.62"/>
<circle cx="381.5" cy="372.8" r="0.96" fill="#5cc65a" fill-opacity="0.60"/>
<circle cx="422.4" cy="373.5" r="0.96" fill="#5cc65a" fill-opacity="0.60"/>
<circle cx="470.8" cy="355.0" r="0.96" fill="#5cc65a" fill-opacity="0.60"/>
<circle cx="482.0" cy="317.5" r="0.96" fill="#5cc65a" fill-opacity="0.60"/>
<circle cx="426.6" cy="96.4" r="0.96" fill="#5cc65a" fill-opacity="0.60"/>
<circle cx="512.1" cy="90.0" r="0.96" fill="#5cc65a" fill-opacity="0.60"/>
<circle cx="471.2" cy="114.6" r="0.96" fill="#5cc65a" fill-opacity="0.60"/>
<circle cx="575.4" cy="83.6" r="0.96" fill="#5cc65a" fill-opacity="0.60"/>
<circle cx="560.4" cy="114.6" r="0.96" fill="#5cc65a" fill-opacity="0.60"/>
<circle cx="590.2" cy="120.7" r="0.96" fill="#5cc65a" fill-opacity="0.60"/>
<circle cx="612.5" cy="138.8" r="0.96" fill="#5cc65a" fill-opacity="0.60"/>
<circle cx="846.7" cy="144.4" r="0.96" fill="#5cc65a" fill-opacity="0.60"/>
<circle cx="162.2" cy="361.3" r="0.87" fill="#5cc65a" fill-opacity="0.52"/>
<circle cx="329.6" cy="323.7" r="0.87" fill="#5cc65a" fill-opacity="0.52"/>
<circle cx="314.6" cy="354.9" r="0.87" fill="#5cc65a" fill-opacity="0.52"/>
<circle cx="392.7" cy="342.5" r="0.87" fill="#5cc65a" fill-opacity="0.52"/>
<circle cx="277.6" cy="263.6" r="0.87" fill="#5cc65a" fill-opacity="0.52"/>
<circle cx="407.7" cy="293.4" r="0.87" fill="#5cc65a" fill-opacity="0.52"/>
<circle cx="471.0" cy="262.0" r="0.87" fill="#5cc65a" fill-opacity="0.52"/>
<circle cx="497.0" cy="243.5" r="0.87" fill="#5cc65a" fill-opacity="0.52"/>
<circle cx="508.2" cy="256.0" r="0.87" fill="#5cc65a" fill-opacity="0.52"/>
<circle cx="530.5" cy="256.0" r="0.87" fill="#5cc65a" fill-opacity="0.52"/>
<circle cx="549.0" cy="299.5" r="0.87" fill="#5cc65a" fill-opacity="0.52"/>
<circle cx="552.8" cy="263.0" r="0.87" fill="#5cc65a" fill-opacity="0.52"/>
<circle cx="578.8" cy="237.5" r="0.87" fill="#5cc65a" fill-opacity="0.52"/>
<circle cx="593.7" cy="249.5" r="0.87" fill="#5cc65a" fill-opacity="0.52"/>
<circle cx="578.8" cy="280.5" r="0.87" fill="#5cc65a" fill-opacity="0.52"/>
<circle cx="422.8" cy="176.2" r="0.87" fill="#5cc65a" fill-opacity="0.52"/>
<circle cx="396.7" cy="194.8" r="0.87" fill="#5cc65a" fill-opacity="0.52"/>
<circle cx="448.8" cy="157.7" r="0.87" fill="#5cc65a" fill-opacity="0.52"/>
<circle cx="508.3" cy="151.7" r="0.87" fill="#5cc65a" fill-opacity="0.52"/>
<circle cx="556.7" cy="151.3" r="0.87" fill="#5cc65a" fill-opacity="0.52"/>
<circle cx="575.2" cy="213.0" r="0.87" fill="#5cc65a" fill-opacity="0.52"/>
<circle cx="623.6" cy="151.3" r="0.87" fill="#5cc65a" fill-opacity="0.52"/>
<circle cx="612.3" cy="225.0" r="0.87" fill="#5cc65a" fill-opacity="0.52"/>
<circle cx="616.1" cy="206.5" r="0.87" fill="#5cc65a" fill-opacity="0.52"/>
<circle cx="430.3" cy="77.9" r="0.87" fill="#5cc65a" fill-opacity="0.52"/>
<circle cx="411.7" cy="102.4" r="0.87" fill="#5cc65a" fill-opacity="0.52"/>
<circle cx="493.6" cy="78.4" r="0.87" fill="#5cc65a" fill-opacity="0.52"/>
<circle cx="467.5" cy="90.0" r="0.87" fill="#5cc65a" fill-opacity="0.52"/>
<circle cx="474.9" cy="139.2" r="0.87" fill="#5cc65a" fill-opacity="0.52"/>
<circle cx="523.3" cy="77.5" r="0.87" fill="#5cc65a" fill-opacity="0.52"/>
<circle cx="553.0" cy="83.5" r="0.87" fill="#5cc65a" fill-opacity="0.52"/>
<circle cx="579.0" cy="108.2" r="0.87" fill="#5cc65a" fill-opacity="0.52"/>
<circle cx="534.4" cy="133.2" r="0.87" fill="#5cc65a" fill-opacity="0.52"/>
<circle cx="620.0" cy="83.6" r="0.87" fill="#5cc65a" fill-opacity="0.52"/>
<circle cx="616.2" cy="102.1" r="0.87" fill="#5cc65a" fill-opacity="0.52"/>
<circle cx="679.4" cy="138.8" r="0.87" fill="#5cc65a" fill-opacity="0.52"/>
<circle cx="601.1" cy="255.6" r="0.82" fill="#5cc65a" fill-opacity="0.47"/>
<circle cx="162.3" cy="256.8" r="0.78" fill="#5cc65a" fill-opacity="0.44"/>
<circle cx="382.0" cy="96.4" r="0.78" fill="#5cc65a" fill-opacity="0.44"/>
<circle cx="497.2" cy="96.0" r="0.78" fill="#5cc65a" fill-opacity="0.44"/>
<circle cx="500.9" cy="120.6" r="0.78" fill="#5cc65a" fill-opacity="0.44"/>
<circle cx="527.0" cy="102.1" r="0.78" fill="#5cc65a" fill-opacity="0.44"/>
<circle cx="549.3" cy="109.1" r="0.78" fill="#5cc65a" fill-opacity="0.44"/>
<circle cx="553.0" cy="126.7" r="0.78" fill="#5cc65a" fill-opacity="0.44"/>
<circle cx="582.7" cy="132.7" r="0.78" fill="#5cc65a" fill-opacity="0.44"/>
<circle cx="526.9" cy="145.2" r="0.78" fill="#5cc65a" fill-opacity="0.44"/>
<circle cx="642.3" cy="83.6" r="0.78" fill="#5cc65a" fill-opacity="0.44"/>
<circle cx="679.5" cy="95.7" r="0.78" fill="#5cc65a" fill-opacity="0.44"/>
<circle cx="574.8" cy="317.2" r="0.78" fill="#5cc65a" fill-opacity="0.44"/>
<circle cx="564.3" cy="52.9" r="0.78" fill="#5cc65a" fill-opacity="0.44"/>
<circle cx="620.1" cy="40.4" r="0.78" fill="#5cc65a" fill-opacity="0.44"/>
<circle cx="649.8" cy="46.5" r="0.78" fill="#5cc65a" fill-opacity="0.44"/>
<circle cx="616.3" cy="59.0" r="0.78" fill="#5cc65a" fill-opacity="0.44"/>
<circle cx="653.5" cy="71.1" r="0.78" fill="#5cc65a" fill-opacity="0.44"/>
<circle cx="727.5" cy="310.7" r="0.78" fill="#5cc65a" fill-opacity="0.44"/>
<circle cx="701.2" cy="329.0" r="0.78" fill="#5cc65a" fill-opacity="0.44"/>
<circle cx="775.7" cy="224.2" r="0.72" fill="#5cc65a" fill-opacity="0.38"/>
<circle cx="181.0" cy="232.3" r="0.70" fill="#5cc65a" fill-opacity="0.36"/>
<circle cx="333.5" cy="158.0" r="0.70" fill="#5cc65a" fill-opacity="0.36"/>
<circle cx="385.7" cy="121.0" r="0.70" fill="#5cc65a" fill-opacity="0.36"/>
<circle cx="426.5" cy="139.6" r="0.70" fill="#5cc65a" fill-opacity="0.36"/>
<circle cx="452.6" cy="121.1" r="0.70" fill="#5cc65a" fill-opacity="0.36"/>
<circle cx="471.2" cy="121.5" r="0.70" fill="#5cc65a" fill-opacity="0.36"/>
<circle cx="260.4" cy="357.8" r="0.65" fill="#5cc65a" fill-opacity="0.32"/>
<circle cx="500.6" cy="361.0" r="0.65" fill="#5cc65a" fill-opacity="0.32"/>
<circle cx="158.5" cy="293.5" r="0.65" fill="#5cc65a" fill-opacity="0.32"/>
<circle cx="526.7" cy="274.5" r="0.65" fill="#5cc65a" fill-opacity="0.32"/>
<circle cx="593.7" cy="274.5" r="0.65" fill="#5cc65a" fill-opacity="0.32"/>
<circle cx="485.9" cy="212.9" r="0.65" fill="#5cc65a" fill-opacity="0.32"/>
<circle cx="590.2" cy="77.5" r="0.65" fill="#5cc65a" fill-opacity="0.32"/>
<circle cx="534.4" cy="90.0" r="0.65" fill="#5cc65a" fill-opacity="0.32"/>
<circle cx="634.5" cy="286.2" r="0.65" fill="#5cc65a" fill-opacity="0.32"/>
<circle cx="188.4" cy="238.3" r="0.61" fill="#5cc65a" fill-opacity="0.28"/>
<circle cx="247.9" cy="207.5" r="0.61" fill="#5cc65a" fill-opacity="0.28"/>
<circle cx="508.4" cy="108.6" r="0.61" fill="#5cc65a" fill-opacity="0.28"/>
<circle cx="549.4" cy="58.9" r="0.59" fill="#5cc65a" fill-opacity="0.26"/>
<circle cx="545.7" cy="34.4" r="0.59" fill="#5cc65a" fill-opacity="0.26"/>
<circle cx="568.0" cy="34.4" r="0.59" fill="#5cc65a" fill-opacity="0.26"/>
<circle cx="642.4" cy="40.4" r="0.59" fill="#5cc65a" fill-opacity="0.26"/>
<circle cx="627.5" cy="46.5" r="0.59" fill="#5cc65a" fill-opacity="0.26"/>
<circle cx="173.5" cy="244.3" r="0.55" fill="#5cc65a" fill-opacity="0.20"/>
<circle cx="140.0" cy="256.8" r="0.55" fill="#5cc65a" fill-opacity="0.20"/>
<circle cx="136.3" cy="275.3" r="0.55" fill="#5cc65a" fill-opacity="0.20"/>
<circle cx="359.6" cy="139.5" r="0.55" fill="#5cc65a" fill-opacity="0.20"/>
<circle cx="296.3" cy="189.0" r="0.55" fill="#5cc65a" fill-opacity="0.16"/>
<circle cx="318.6" cy="189.1" r="0.55" fill="#5cc65a" fill-opacity="0.16"/>
<circle cx="396.9" cy="90.4" r="0.55" fill="#5cc65a" fill-opacity="0.16"/>
<circle cx="437.8" cy="83.9" r="0.55" fill="#5cc65a" fill-opacity="0.16"/>
<circle cx="309.2" cy="268.3" r="9.55" fill="#f0960e"/>
<circle cx="205.0" cy="342.3" r="8.68" fill="#f0960e"/>
<circle cx="208.7" cy="323.8" r="8.68" fill="#f0960e"/>
<circle cx="231.0" cy="323.8" r="8.68" fill="#f0960e"/>
<circle cx="253.3" cy="323.9" r="8.68" fill="#f0960e"/>
<circle cx="257.1" cy="305.3" r="8.68" fill="#f0960e"/>
<circle cx="312.9" cy="249.8" r="8.68" fill="#f0960e"/>
<circle cx="335.2" cy="249.9" r="8.68" fill="#f0960e"/>
<circle cx="331.5" cy="268.4" r="8.68" fill="#f0960e"/>
<circle cx="201.2" cy="360.9" r="8.25" fill="#f0960e"/>
<circle cx="309.1" cy="311.4" r="8.25" fill="#f0960e"/>
<circle cx="234.8" cy="305.3" r="8.25" fill="#f0960e"/>
<circle cx="260.8" cy="286.8" r="8.25" fill="#f0960e"/>
<circle cx="286.9" cy="268.3" r="7.81" fill="#f0960e"/>
<circle cx="338.9" cy="274.4" r="7.81" fill="#f0960e"/>
<circle cx="365.0" cy="255.9" r="7.81" fill="#f0960e"/>
<circle cx="283.1" cy="286.8" r="7.37" fill="#f0960e"/>
<circle cx="312.9" cy="292.9" r="7.37" fill="#f0960e"/>
<circle cx="335.2" cy="292.9" r="7.37" fill="#f0960e"/>
<circle cx="149.2" cy="336.7" r="6.94" fill="#f0960e"/>
<circle cx="286.8" cy="311.4" r="6.94" fill="#f0960e"/>
<circle cx="391.0" cy="280.5" r="6.94" fill="#f0960e"/>
<circle cx="182.6" cy="342.3" r="6.50" fill="#f0960e"/>
<circle cx="234.7" cy="312.3" r="6.50" fill="#f0960e"/>
<circle cx="260.8" cy="329.9" r="6.50" fill="#f0960e"/>
<circle cx="283.5" cy="304.8" r="6.50" fill="#f0960e"/>
<circle cx="305.4" cy="286.9" r="6.50" fill="#f0960e"/>
<circle cx="339.0" cy="231.3" r="6.50" fill="#f0960e"/>
<circle cx="364.9" cy="299.0" r="6.50" fill="#f0960e"/>
<circle cx="234.7" cy="348.4" r="6.07" fill="#f0960e"/>
<circle cx="245.9" cy="317.8" r="6.07" fill="#f0960e"/>
<circle cx="283.1" cy="329.9" r="6.07" fill="#f0960e"/>
<circle cx="312.8" cy="336.0" r="5.63" fill="#f0960e"/>
<circle cx="338.9" cy="317.5" r="5.63" fill="#f0960e"/>
<circle cx="279.4" cy="287.3" r="5.63" fill="#f0960e"/>
<circle cx="357.5" cy="274.9" r="5.63" fill="#f0960e"/>
<circle cx="178.9" cy="360.8" r="5.19" fill="#f0960e"/>
<circle cx="238.4" cy="329.9" r="5.19" fill="#f0960e"/>
<circle cx="331.4" cy="311.5" r="5.19" fill="#f0960e"/>
<circle cx="249.6" cy="299.3" r="5.19" fill="#f0960e"/>
<circle cx="279.4" cy="305.4" r="5.19" fill="#f0960e"/>
<circle cx="309.6" cy="307.4" r="5.19" fill="#f0960e"/>
<circle cx="342.7" cy="255.9" r="5.19" fill="#f0960e"/>
<circle cx="342.6" cy="299.0" r="5.19" fill="#f0960e"/>
<circle cx="361.3" cy="231.4" r="5.19" fill="#f0960e"/>
<circle cx="362.6" cy="270.9" r="5.19" fill="#f0960e"/>
<circle cx="387.4" cy="212.9" r="5.19" fill="#f0960e"/>
<circle cx="186.3" cy="348.8" r="4.76" fill="#f0960e"/>
<circle cx="420.9" cy="281.3" r="4.76" fill="#f0960e"/>
<circle cx="231.1" cy="280.7" r="4.54" fill="#f0960e"/>
<circle cx="413.4" cy="194.4" r="4.54" fill="#f0960e"/>
<circle cx="365.1" cy="212.8" r="4.54" fill="#f0960e"/>
<circle cx="227.3" cy="342.4" r="4.32" fill="#f0960e"/>
<circle cx="257.0" cy="348.4" r="4.32" fill="#f0960e"/>
<circle cx="227.3" cy="299.3" r="4.32" fill="#f0960e"/>
<circle cx="283.2" cy="243.7" r="4.32" fill="#f0960e"/>
<circle cx="294.3" cy="274.3" r="4.32" fill="#f0960e"/>
<circle cx="290.6" cy="292.9" r="4.32" fill="#f0960e"/>
<circle cx="353.8" cy="268.4" r="4.32" fill="#f0960e"/>
<circle cx="391.0" cy="237.4" r="4.32" fill="#f0960e"/>
<circle cx="391.1" cy="194.4" r="4.32" fill="#f0960e"/>
<circle cx="417.1" cy="218.9" r="4.32" fill="#f0960e"/>
<circle cx="205.0" cy="299.2" r="4.10" fill="#f0960e"/>
<circle cx="413.4" cy="237.5" r="4.10" fill="#f0960e"/>
<circle cx="309.3" cy="225.3" r="4.10" fill="#f0960e"/>
<circle cx="175.2" cy="336.2" r="3.88" fill="#f0960e"/>
<circle cx="230.9" cy="366.9" r="3.88" fill="#f0960e"/>
<circle cx="260.9" cy="243.7" r="3.88" fill="#f0960e"/>
<circle cx="257.1" cy="262.2" r="3.88" fill="#f0960e"/>
<circle cx="238.5" cy="286.8" r="3.88" fill="#f0960e"/>
<circle cx="305.5" cy="243.8" r="3.88" fill="#f0960e"/>
<circle cx="357.6" cy="249.9" r="3.88" fill="#f0960e"/>
<circle cx="357.5" cy="293.0" r="3.88" fill="#f0960e"/>
<circle cx="387.3" cy="255.9" r="3.88" fill="#f0960e"/>
<circle cx="394.8" cy="257.0" r="3.88" fill="#f0960e"/>
<circle cx="398.3" cy="277.4" r="3.88" fill="#f0960e"/>
<circle cx="452.2" cy="289.1" r="3.88" fill="#f0960e"/>
<circle cx="443.2" cy="200.4" r="3.88" fill="#f0960e"/>
<circle cx="153.0" cy="361.3" r="3.66" fill="#f0960e"/>
<circle cx="156.6" cy="360.8" r="3.66" fill="#f0960e"/>
<circle cx="305.4" cy="330.0" r="3.66" fill="#f0960e"/>
<circle cx="264.6" cy="268.3" r="3.66" fill="#f0960e"/>
<circle cx="212.4" cy="305.2" r="3.66" fill="#f0960e"/>
<circle cx="290.6" cy="249.8" r="3.66" fill="#f0960e"/>
<circle cx="316.7" cy="231.3" r="3.66" fill="#f0960e"/>
<circle cx="335.3" cy="206.8" r="3.66" fill="#f0960e"/>
<circle cx="417.2" cy="175.8" r="3.66" fill="#f0960e"/>
<circle cx="439.5" cy="175.9" r="3.66" fill="#f0960e"/>
<circle cx="465.5" cy="157.3" r="3.66" fill="#f0960e"/>
<circle cx="517.5" cy="206.5" r="3.66" fill="#f0960e"/>
<circle cx="175.2" cy="318.2" r="3.44" fill="#f0960e"/>
<circle cx="179.0" cy="317.7" r="3.44" fill="#f0960e"/>
<circle cx="279.3" cy="330.4" r="3.44" fill="#f0960e"/>
<circle cx="286.7" cy="354.5" r="3.44" fill="#f0960e"/>
<circle cx="368.6" cy="323.5" r="3.44" fill="#f0960e"/>
<circle cx="279.4" cy="262.3" r="3.44" fill="#f0960e"/>
<circle cx="301.8" cy="262.3" r="3.44" fill="#f0960e"/>
<circle cx="320.3" cy="298.9" r="3.44" fill="#f0960e"/>
<circle cx="301.7" cy="305.4" r="3.44" fill="#f0960e"/>
<circle cx="346.4" cy="280.4" r="3.44" fill="#f0960e"/>
<circle cx="327.8" cy="286.9" r="3.44" fill="#f0960e"/>
<circle cx="357.6" cy="231.8" r="3.44" fill="#f0960e"/>
<circle cx="357.5" cy="299.9" r="3.44" fill="#f0960e"/>
<circle cx="368.7" cy="237.4" r="3.44" fill="#f0960e"/>
<circle cx="372.4" cy="261.9" r="3.44" fill="#f0960e"/>
<circle cx="383.6" cy="231.4" r="3.44" fill="#f0960e"/>
<circle cx="383.6" cy="274.5" r="3.44" fill="#f0960e"/>
<circle cx="387.2" cy="299.0" r="3.44" fill="#f0960e"/>
<circle cx="480.2" cy="298.6" r="3.44" fill="#f0960e"/>
<circle cx="342.7" cy="212.8" r="3.44" fill="#f0960e"/>
<circle cx="387.4" cy="169.8" r="3.44" fill="#f0960e"/>
<circle cx="435.7" cy="194.4" r="3.44" fill="#f0960e"/>
<circle cx="420.9" cy="200.4" r="3.44" fill="#f0960e"/>
<circle cx="409.7" cy="212.9" r="3.44" fill="#f0960e"/>
<circle cx="394.8" cy="218.9" r="3.44" fill="#f0960e"/>
<circle cx="439.4" cy="219.0" r="3.44" fill="#f0960e"/>
<circle cx="443.2" cy="157.3" r="3.44" fill="#f0960e"/>
<circle cx="461.8" cy="175.9" r="3.44" fill="#f0960e"/>
<circle cx="469.2" cy="181.9" r="3.44" fill="#f0960e"/>
<circle cx="465.5" cy="200.5" r="3.44" fill="#f0960e"/>
<circle cx="491.5" cy="181.9" r="3.44" fill="#f0960e"/>
<circle cx="465.6" cy="114.2" r="3.44" fill="#f0960e"/>
<circle cx="469.3" cy="138.8" r="3.44" fill="#f0960e"/>
<circle cx="491.6" cy="138.8" r="3.44" fill="#f0960e"/>
<circle cx="186.4" cy="323.7" r="3.22" fill="#f0960e"/>
<circle cx="342.5" cy="342.0" r="3.22" fill="#f0960e"/>
<circle cx="483.9" cy="323.1" r="3.22" fill="#f0960e"/>
<circle cx="409.6" cy="256.0" r="3.22" fill="#f0960e"/>
<circle cx="413.5" cy="151.2" r="3.22" fill="#f0960e"/>
<circle cx="394.9" cy="175.8" r="3.22" fill="#f0960e"/>
<circle cx="361.4" cy="188.3" r="3.22" fill="#f0960e"/>
<circle cx="495.3" cy="163.4" r="3.22" fill="#f0960e"/>
<circle cx="458.0" cy="194.4" r="3.22" fill="#f0960e"/>
<circle cx="547.3" cy="212.6" r="3.22" fill="#f0960e"/>
<circle cx="577.0" cy="218.6" r="3.22" fill="#f0960e"/>
<circle cx="495.4" cy="120.2" r="3.22" fill="#f0960e"/>
<circle cx="204.9" cy="385.5" r="3.00" fill="#f0960e"/>
<circle cx="212.4" cy="348.4" r="3.00" fill="#f0960e"/>
<circle cx="275.6" cy="323.9" r="3.00" fill="#f0960e"/>
<circle cx="279.3" cy="348.5" r="3.00" fill="#f0960e"/>
<circle cx="290.5" cy="336.0" r="3.00" fill="#f0960e"/>
<circle cx="335.1" cy="336.0" r="3.00" fill="#f0960e"/>
<circle cx="361.2" cy="317.5" r="3.00" fill="#f0960e"/>
<circle cx="182.7" cy="299.2" r="3.00" fill="#f0960e"/>
<circle cx="208.8" cy="280.7" r="3.00" fill="#f0960e"/>
<circle cx="268.2" cy="292.8" r="3.00" fill="#f0960e"/>
<circle cx="275.7" cy="280.8" r="3.00" fill="#f0960e"/>
<circle cx="320.4" cy="255.9" r="3.00" fill="#f0960e"/>
<circle cx="346.4" cy="237.4" r="3.00" fill="#f0960e"/>
<circle cx="394.7" cy="305.0" r="3.00" fill="#f0960e"/>
<circle cx="435.7" cy="237.5" r="3.00" fill="#f0960e"/>
<circle cx="443.1" cy="243.5" r="3.00" fill="#f0960e"/>
<circle cx="483.9" cy="287.0" r="3.00" fill="#f0960e"/>
<circle cx="313.0" cy="206.7" r="3.00" fill="#f0960e"/>
<circle cx="286.9" cy="225.2" r="3.00" fill="#f0960e"/>
<circle cx="331.6" cy="225.3" r="3.00" fill="#f0960e"/>
<circle cx="365.1" cy="169.7" r="3.00" fill="#f0960e"/>
<circle cx="368.8" cy="194.3" r="3.00" fill="#f0960e"/>
<circle cx="469.2" cy="225.0" r="3.00" fill="#f0960e"/>
<circle cx="487.8" cy="200.5" r="3.00" fill="#f0960e"/>
<circle cx="521.3" cy="188.0" r="3.00" fill="#f0960e"/>
<circle cx="551.0" cy="201.0" r="3.00" fill="#f0960e"/>
<circle cx="610.5" cy="213.1" r="3.00" fill="#f0960e"/>
<circle cx="543.7" cy="101.7" r="3.00" fill="#f0960e"/>
<circle cx="517.7" cy="77.1" r="2.89" fill="#f0960e"/>
<circle cx="249.6" cy="342.4" r="2.78" fill="#f0960e"/>
<circle cx="253.3" cy="367.0" r="2.78" fill="#f0960e"/>
<circle cx="264.4" cy="354.5" r="2.78" fill="#f0960e"/>
<circle cx="316.5" cy="360.5" r="2.78" fill="#f0960e"/>
<circle cx="264.6" cy="250.2" r="2.78" fill="#f0960e"/>
<circle cx="379.9" cy="249.9" r="2.78" fill="#f0960e"/>
<circle cx="417.0" cy="305.1" r="2.78" fill="#f0960e"/>
<circle cx="465.4" cy="243.5" r="2.78" fill="#f0960e"/>
<circle cx="509.9" cy="304.6" r="2.78" fill="#f0960e"/>
<circle cx="339.1" cy="188.2" r="2.78" fill="#f0960e"/>
<circle cx="342.8" cy="194.7" r="2.78" fill="#f0960e"/>
<circle cx="357.6" cy="206.8" r="2.78" fill="#f0960e"/>
<circle cx="473.0" cy="163.4" r="2.78" fill="#f0960e"/>
<circle cx="487.9" cy="157.3" r="2.78" fill="#f0960e"/>
<circle cx="450.6" cy="206.5" r="2.78" fill="#f0960e"/>
<circle cx="461.7" cy="219.0" r="2.78" fill="#f0960e"/>
<circle cx="495.2" cy="206.5" r="2.78" fill="#f0960e"/>
<circle cx="491.5" cy="225.0" r="2.78" fill="#f0960e"/>
<circle cx="551.0" cy="194.0" r="2.78" fill="#f0960e"/>
<circle cx="439.6" cy="132.7" r="2.78" fill="#f0960e"/>
<circle cx="491.7" cy="95.6" r="2.78" fill="#f0960e"/>
<circle cx="499.0" cy="144.8" r="2.78" fill="#f0960e"/>
<circle cx="573.5" cy="107.8" r="2.78" fill="#f0960e"/>
<circle cx="521.3" cy="144.8" r="2.78" fill="#f0960e"/>
<circle cx="145.5" cy="330.2" r="2.56" fill="#f0960e"/>
<circle cx="193.8" cy="311.7" r="2.56" fill="#f0960e"/>
<circle cx="208.6" cy="366.9" r="2.56" fill="#f0960e"/>
<circle cx="272.2" cy="360.4" r="2.56" fill="#f0960e"/>
<circle cx="286.8" cy="318.4" r="2.56" fill="#f0960e"/>
<circle cx="320.2" cy="342.0" r="2.56" fill="#f0960e"/>
<circle cx="294.3" cy="360.3" r="2.56" fill="#f0960e"/>
<circle cx="390.9" cy="323.6" r="2.56" fill="#f0960e"/>
<circle cx="420.7" cy="329.6" r="2.56" fill="#f0960e"/>
<circle cx="164.1" cy="305.6" r="2.56" fill="#f0960e"/>
<circle cx="234.8" cy="262.2" r="2.56" fill="#f0960e"/>
<circle cx="253.4" cy="280.8" r="2.56" fill="#f0960e"/>
<circle cx="272.0" cy="299.3" r="2.56" fill="#f0960e"/>
<circle cx="365.0" cy="262.9" r="2.56" fill="#f0960e"/>
<circle cx="405.9" cy="231.4" r="2.56" fill="#f0960e"/>
<circle cx="413.3" cy="280.5" r="2.56" fill="#f0960e"/>
<circle cx="425.2" cy="307.8" r="2.56" fill="#f0960e"/>
<circle cx="439.4" cy="262.0" r="2.56" fill="#f0960e"/>
<circle cx="454.2" cy="281.0" r="2.56" fill="#f0960e"/>
<circle cx="472.8" cy="249.5" r="2.56" fill="#f0960e"/>
<circle cx="469.1" cy="268.1" r="2.56" fill="#f0960e"/>
<circle cx="498.9" cy="231.0" r="2.56" fill="#f0960e"/>
<circle cx="495.1" cy="249.6" r="2.56" fill="#f0960e"/>
<circle cx="391.2" cy="151.2" r="2.56" fill="#f0960e"/>
<circle cx="435.8" cy="151.3" r="2.56" fill="#f0960e"/>
<circle cx="409.7" cy="169.8" r="2.56" fill="#f0960e"/>
<circle cx="383.7" cy="188.3" r="2.56" fill="#f0960e"/>
<circle cx="432.0" cy="212.9" r="2.56" fill="#f0960e"/>
<circle cx="372.5" cy="218.9" r="2.56" fill="#f0960e"/>
<circle cx="517.6" cy="163.4" r="2.56" fill="#f0960e"/>
<circle cx="446.9" cy="181.9" r="2.56" fill="#f0960e"/>
<circle cx="472.9" cy="206.5" r="2.56" fill="#f0960e"/>
<circle cx="446.8" cy="225.0" r="2.56" fill="#f0960e"/>
<circle cx="499.0" cy="188.0" r="2.56" fill="#f0960e"/>
<circle cx="525.0" cy="169.4" r="2.56" fill="#f0960e"/>
<circle cx="580.8" cy="200.1" r="2.56" fill="#f0960e"/>
<circle cx="606.7" cy="224.6" r="2.56" fill="#f0960e"/>
<circle cx="417.2" cy="132.7" r="2.56" fill="#f0960e"/>
<circle cx="443.3" cy="114.1" r="2.56" fill="#f0960e"/>
<circle cx="517.7" cy="120.2" r="2.56" fill="#f0960e"/>
<circle cx="547.5" cy="83.1" r="2.56" fill="#f0960e"/>
<circle cx="525.1" cy="126.3" r="2.56" fill="#f0960e"/>
<circle cx="547.4" cy="126.3" r="2.56" fill="#f0960e"/>
<circle cx="603.2" cy="113.8" r="2.56" fill="#f0960e"/>
<circle cx="636.5" cy="230.7" r="2.39" fill="#f0960e"/>
<circle cx="149.2" cy="354.8" r="2.34" fill="#f0960e"/>
<circle cx="156.6" cy="317.6" r="2.34" fill="#f0960e"/>
<circle cx="167.8" cy="330.2" r="2.34" fill="#f0960e"/>
<circle cx="219.8" cy="336.3" r="2.34" fill="#f0960e"/>
<circle cx="238.3" cy="372.6" r="2.34" fill="#f0960e"/>
<circle cx="309.1" cy="354.5" r="2.34" fill="#f0960e"/>
<circle cx="372.3" cy="348.1" r="2.34" fill="#f0960e"/>
<circle cx="454.1" cy="317.1" r="2.34" fill="#f0960e"/>
<circle cx="141.8" cy="305.6" r="2.34" fill="#f0960e"/>
<circle cx="231.1" cy="262.6" r="2.34" fill="#f0960e"/>
<circle cx="398.5" cy="243.5" r="2.34" fill="#f0960e"/>
<circle cx="420.9" cy="157.3" r="2.34" fill="#f0960e"/>
<circle cx="432.1" cy="169.8" r="2.34" fill="#f0960e"/>
<circle cx="424.6" cy="181.9" r="2.34" fill="#f0960e"/>
<circle cx="547.3" cy="169.4" r="2.34" fill="#f0960e"/>
<circle cx="525.0" cy="212.5" r="2.34" fill="#f0960e"/>
<circle cx="670.0" cy="225.1" r="2.34" fill="#f0960e"/>
<circle cx="473.0" cy="120.2" r="2.34" fill="#f0960e"/>
<circle cx="461.9" cy="132.7" r="2.34" fill="#f0960e"/>
<circle cx="521.4" cy="101.7" r="2.34" fill="#f0960e"/>
<circle cx="543.7" cy="144.9" r="2.34" fill="#f0960e"/>
<circle cx="160.3" cy="342.2" r="2.12" fill="#f0960e"/>
<circle cx="141.7" cy="348.7" r="2.12" fill="#f0960e"/>
<circle cx="149.2" cy="311.6" r="2.12" fill="#f0960e"/>
<circle cx="171.5" cy="311.6" r="2.12" fill="#f0960e"/>
<circle cx="171.5" cy="354.8" r="2.12" fill="#f0960e"/>
<circle cx="186.3" cy="366.7" r="2.12" fill="#f0960e"/>
<circle cx="223.5" cy="360.9" r="2.12" fill="#f0960e"/>
<circle cx="346.3" cy="330.5" r="2.12" fill="#f0960e"/>
<circle cx="346.3" cy="323.5" r="2.12" fill="#f0960e"/>
<circle cx="290.4" cy="379.0" r="2.12" fill="#f0960e"/>
<circle cx="364.9" cy="342.1" r="2.12" fill="#f0960e"/>
<circle cx="383.5" cy="317.5" r="2.12" fill="#f0960e"/>
<circle cx="398.3" cy="329.6" r="2.12" fill="#f0960e"/>
<circle cx="446.7" cy="311.1" r="2.12" fill="#f0960e"/>
<circle cx="219.9" cy="293.2" r="2.12" fill="#f0960e"/>
<circle cx="279.5" cy="244.2" r="2.12" fill="#f0960e"/>
<circle cx="298.0" cy="280.8" r="2.12" fill="#f0960e"/>
<circle cx="327.8" cy="243.8" r="2.12" fill="#f0960e"/>
<circle cx="372.3" cy="305.0" r="2.12" fill="#f0960e"/>
<circle cx="398.4" cy="286.5" r="2.12" fill="#f0960e"/>
<circle cx="407.7" cy="307.8" r="2.12" fill="#f0960e"/>
<circle cx="413.3" cy="255.5" r="2.12" fill="#f0960e"/>
<circle cx="428.2" cy="256.5" r="2.12" fill="#f0960e"/>
<circle cx="443.0" cy="286.6" r="2.12" fill="#f0960e"/>
<circle cx="457.9" cy="305.5" r="2.12" fill="#f0960e"/>
<circle cx="502.6" cy="255.6" r="2.12" fill="#f0960e"/>
<circle cx="521.2" cy="231.1" r="2.12" fill="#f0960e"/>
<circle cx="528.6" cy="237.1" r="2.12" fill="#f0960e"/>
<circle cx="550.9" cy="237.1" r="2.12" fill="#f0960e"/>
<circle cx="353.9" cy="225.3" r="2.12" fill="#f0960e"/>
<circle cx="428.3" cy="188.4" r="2.12" fill="#f0960e"/>
<circle cx="439.4" cy="200.9" r="2.12" fill="#f0960e"/>
<circle cx="424.5" cy="225.0" r="2.12" fill="#f0960e"/>
<circle cx="502.7" cy="169.4" r="2.12" fill="#f0960e"/>
<circle cx="513.8" cy="182.0" r="2.12" fill="#f0960e"/>
<circle cx="484.1" cy="175.9" r="2.12" fill="#f0960e"/>
<circle cx="551.1" cy="150.9" r="2.12" fill="#f0960e"/>
<circle cx="580.8" cy="156.9" r="2.12" fill="#f0960e"/>
<circle cx="543.6" cy="188.0" r="2.12" fill="#f0960e"/>
<circle cx="554.7" cy="218.6" r="2.12" fill="#f0960e"/>
<circle cx="577.1" cy="175.5" r="2.12" fill="#f0960e"/>
<circle cx="469.4" cy="95.6" r="2.12" fill="#f0960e"/>
<circle cx="447.0" cy="138.7" r="2.12" fill="#f0960e"/>
<circle cx="513.9" cy="138.8" r="2.12" fill="#f0960e"/>
<circle cx="551.2" cy="107.7" r="2.12" fill="#f0960e"/>
<circle cx="569.7" cy="126.3" r="2.12" fill="#f0960e"/>
<circle cx="577.1" cy="132.3" r="2.12" fill="#f0960e"/>
<circle cx="599.5" cy="132.4" r="2.12" fill="#f0960e"/>
<circle cx="543.8" cy="58.5" r="1.89" fill="#f0960e"/>
<circle cx="138.0" cy="324.1" r="1.89" fill="#f0960e"/>
<circle cx="260.7" cy="373.0" r="1.89" fill="#f0960e"/>
<circle cx="413.2" cy="323.6" r="1.89" fill="#f0960e"/>
<circle cx="476.4" cy="317.1" r="1.89" fill="#f0960e"/>
<circle cx="246.0" cy="274.7" r="1.89" fill="#f0960e"/>
<circle cx="409.5" cy="299.0" r="1.89" fill="#f0960e"/>
<circle cx="487.7" cy="243.5" r="1.89" fill="#f0960e"/>
<circle cx="472.8" cy="292.6" r="1.89" fill="#f0960e"/>
<circle cx="498.8" cy="274.1" r="1.89" fill="#f0960e"/>
<circle cx="498.8" cy="281.0" r="1.89" fill="#f0960e"/>
<circle cx="513.7" cy="286.1" r="1.89" fill="#f0960e"/>
<circle cx="524.9" cy="255.6" r="1.89" fill="#f0960e"/>
<circle cx="528.6" cy="280.1" r="1.89" fill="#f0960e"/>
<circle cx="406.0" cy="188.3" r="1.89" fill="#f0960e"/>
<circle cx="458.1" cy="151.3" r="1.89" fill="#f0960e"/>
<circle cx="476.7" cy="188.0" r="1.89" fill="#f0960e"/>
<circle cx="491.5" cy="188.9" r="1.89" fill="#f0960e"/>
<circle cx="484.1" cy="201.0" r="1.89" fill="#f0960e"/>
<circle cx="502.6" cy="212.5" r="1.89" fill="#f0960e"/>
<circle cx="573.4" cy="150.9" r="1.89" fill="#f0960e"/>
<circle cx="554.8" cy="175.5" r="1.89" fill="#f0960e"/>
<circle cx="528.7" cy="194.0" r="1.89" fill="#f0960e"/>
<circle cx="573.3" cy="194.1" r="1.89" fill="#f0960e"/>
<circle cx="580.7" cy="207.0" r="1.89" fill="#f0960e"/>
<circle cx="640.2" cy="219.1" r="1.89" fill="#f0960e"/>
<circle cx="487.9" cy="114.2" r="1.89" fill="#f0960e"/>
<circle cx="577.2" cy="89.2" r="1.89" fill="#f0960e"/>
<circle cx="540.0" cy="120.3" r="1.89" fill="#f0960e"/>
<circle cx="554.8" cy="132.3" r="1.89" fill="#f0960e"/>
<circle cx="632.9" cy="119.8" r="1.89" fill="#f0960e"/>
<circle cx="629.2" cy="138.4" r="1.89" fill="#f0960e"/>
<circle cx="658.9" cy="144.4" r="1.89" fill="#f0960e"/>
<circle cx="733.3" cy="150.5" r="1.85" fill="#f0960e"/>
<circle cx="792.8" cy="162.6" r="1.85" fill="#f0960e"/>
<circle cx="666.2" cy="236.7" r="1.84" fill="#f0960e"/>
<circle cx="573.5" cy="64.6" r="1.69" fill="#f0960e"/>
<circle cx="625.6" cy="70.7" r="1.69" fill="#f0960e"/>
<circle cx="216.1" cy="354.9" r="1.67" fill="#f0960e"/>
<circle cx="301.6" cy="348.5" r="1.67" fill="#f0960e"/>
<circle cx="376.0" cy="329.6" r="1.67" fill="#f0960e"/>
<circle cx="381.6" cy="326.5" r="1.67" fill="#f0960e"/>
<circle cx="405.8" cy="342.6" r="1.67" fill="#f0960e"/>
<circle cx="402.1" cy="311.1" r="1.67" fill="#f0960e"/>
<circle cx="428.1" cy="335.6" r="1.67" fill="#f0960e"/>
<circle cx="426.3" cy="344.8" r="1.67" fill="#f0960e"/>
<circle cx="167.9" cy="287.1" r="1.67" fill="#f0960e"/>
<circle cx="175.3" cy="293.1" r="1.67" fill="#f0960e"/>
<circle cx="190.2" cy="287.1" r="1.67" fill="#f0960e"/>
<circle cx="197.6" cy="293.2" r="1.67" fill="#f0960e"/>
<circle cx="275.8" cy="237.7" r="1.67" fill="#f0960e"/>
<circle cx="223.7" cy="274.7" r="1.67" fill="#f0960e"/>
<circle cx="290.7" cy="231.7" r="1.67" fill="#f0960e"/>
<circle cx="320.4" cy="262.8" r="1.67" fill="#f0960e"/>
<circle cx="324.1" cy="262.3" r="1.67" fill="#f0960e"/>
<circle cx="379.8" cy="293.0" r="1.67" fill="#f0960e"/>
<circle cx="405.9" cy="274.5" r="1.67" fill="#f0960e"/>
<circle cx="435.6" cy="280.5" r="1.67" fill="#f0960e"/>
<circle cx="428.1" cy="292.6" r="1.67" fill="#f0960e"/>
<circle cx="439.3" cy="305.1" r="1.67" fill="#f0960e"/>
<circle cx="461.7" cy="262.0" r="1.67" fill="#f0960e"/>
<circle cx="465.3" cy="286.6" r="1.67" fill="#f0960e"/>
<circle cx="476.6" cy="231.0" r="1.67" fill="#f0960e"/>
<circle cx="480.3" cy="255.6" r="1.67" fill="#f0960e"/>
<circle cx="506.3" cy="237.1" r="1.67" fill="#f0960e"/>
<circle cx="517.5" cy="249.6" r="1.67" fill="#f0960e"/>
<circle cx="510.0" cy="261.6" r="1.67" fill="#f0960e"/>
<circle cx="506.3" cy="280.1" r="1.67" fill="#f0960e"/>
<circle cx="513.7" cy="293.1" r="1.67" fill="#f0960e"/>
<circle cx="532.3" cy="261.6" r="1.67" fill="#f0960e"/>
<circle cx="558.3" cy="286.2" r="1.67" fill="#f0960e"/>
<circle cx="580.7" cy="243.1" r="1.67" fill="#f0960e"/>
<circle cx="398.5" cy="200.4" r="1.67" fill="#f0960e"/>
<circle cx="379.9" cy="206.9" r="1.67" fill="#f0960e"/>
<circle cx="510.1" cy="218.6" r="1.67" fill="#f0960e"/>
<circle cx="513.8" cy="225.0" r="1.67" fill="#f0960e"/>
<circle cx="528.8" cy="150.9" r="1.67" fill="#f0960e"/>
<circle cx="539.9" cy="163.4" r="1.67" fill="#f0960e"/>
<circle cx="569.6" cy="169.5" r="1.67" fill="#f0960e"/>
<circle cx="599.4" cy="175.5" r="1.67" fill="#f0960e"/>
<circle cx="603.1" cy="157.0" r="1.67" fill="#f0960e"/>
<circle cx="621.7" cy="157.4" r="1.67" fill="#f0960e"/>
<circle cx="647.7" cy="175.1" r="1.67" fill="#f0960e"/>
<circle cx="495.4" cy="77.1" r="1.67" fill="#f0960e"/>
<circle cx="514.0" cy="95.6" r="1.67" fill="#f0960e"/>
<circle cx="502.8" cy="126.3" r="1.67" fill="#f0960e"/>
<circle cx="569.8" cy="83.2" r="1.67" fill="#f0960e"/>
<circle cx="599.5" cy="89.2" r="1.67" fill="#f0960e"/>
<circle cx="580.9" cy="113.8" r="1.67" fill="#f0960e"/>
<circle cx="629.3" cy="95.2" r="1.67" fill="#f0960e"/>
<circle cx="606.9" cy="138.4" r="1.67" fill="#f0960e"/>
<circle cx="696.0" cy="242.7" r="1.60" fill="#f0960e"/>
<circle cx="595.8" cy="107.8" r="1.57" fill="#f0960e"/>
<circle cx="625.5" cy="113.8" r="1.57" fill="#f0960e"/>
<circle cx="599.6" cy="46.1" r="1.48" fill="#f0960e"/>
<circle cx="521.5" cy="58.5" r="1.48" fill="#f0960e"/>
<circle cx="595.8" cy="64.6" r="1.48" fill="#f0960e"/>
<circle cx="603.3" cy="70.6" r="1.48" fill="#f0960e"/>
<circle cx="629.3" cy="52.1" r="1.48" fill="#f0960e"/>
<circle cx="651.6" cy="52.1" r="1.48" fill="#f0960e"/>
<circle cx="242.6" cy="354.5" r="1.44" fill="#f0960e"/>
<circle cx="350.0" cy="348.0" r="1.44" fill="#f0960e"/>
<circle cx="357.4" cy="336.0" r="1.44" fill="#f0960e"/>
<circle cx="346.3" cy="366.3" r="1.44" fill="#f0960e"/>
<circle cx="394.6" cy="348.1" r="1.44" fill="#f0960e"/>
<circle cx="402.0" cy="354.1" r="1.44" fill="#f0960e"/>
<circle cx="446.7" cy="318.0" r="1.44" fill="#f0960e"/>
<circle cx="443.0" cy="329.6" r="1.44" fill="#f0960e"/>
<circle cx="450.4" cy="335.6" r="1.44" fill="#f0960e"/>
<circle cx="509.8" cy="347.6" r="1.44" fill="#f0960e"/>
<circle cx="469.0" cy="311.1" r="1.44" fill="#f0960e"/>
<circle cx="272.0" cy="256.2" r="1.44" fill="#f0960e"/>
<circle cx="433.7" cy="289.6" r="1.44" fill="#f0960e"/>
<circle cx="491.4" cy="268.1" r="1.44" fill="#f0960e"/>
<circle cx="472.8" cy="299.5" r="1.44" fill="#f0960e"/>
<circle cx="502.5" cy="298.6" r="1.44" fill="#f0960e"/>
<circle cx="543.5" cy="231.1" r="1.44" fill="#f0960e"/>
<circle cx="424.6" cy="188.8" r="1.44" fill="#f0960e"/>
<circle cx="510.2" cy="157.4" r="1.44" fill="#f0960e"/>
<circle cx="450.7" cy="163.3" r="1.44" fill="#f0960e"/>
<circle cx="588.2" cy="163.0" r="1.44" fill="#f0960e"/>
<circle cx="595.7" cy="150.9" r="1.44" fill="#f0960e"/>
<circle cx="532.4" cy="218.6" r="1.44" fill="#f0960e"/>
<circle cx="584.5" cy="181.5" r="1.44" fill="#f0960e"/>
<circle cx="595.6" cy="194.1" r="1.44" fill="#f0960e"/>
<circle cx="625.4" cy="157.0" r="1.44" fill="#f0960e"/>
<circle cx="606.8" cy="181.5" r="1.44" fill="#f0960e"/>
<circle cx="603.1" cy="200.1" r="1.44" fill="#f0960e"/>
<circle cx="632.9" cy="163.0" r="1.44" fill="#f0960e"/>
<circle cx="629.1" cy="181.6" r="1.44" fill="#f0960e"/>
<circle cx="655.2" cy="163.0" r="1.44" fill="#f0960e"/>
<circle cx="499.1" cy="101.7" r="1.44" fill="#f0960e"/>
<circle cx="577.2" cy="96.2" r="1.44" fill="#f0960e"/>
<circle cx="566.0" cy="144.9" r="1.44" fill="#f0960e"/>
<circle cx="655.3" cy="76.7" r="1.44" fill="#f0960e"/>
<circle cx="606.9" cy="95.2" r="1.44" fill="#f0960e"/>
<circle cx="647.8" cy="113.8" r="1.44" fill="#f0960e"/>
<circle cx="655.3" cy="119.9" r="1.44" fill="#f0960e"/>
<circle cx="763.0" cy="156.5" r="1.34" fill="#f0960e"/>
<circle cx="711.0" cy="150.5" r="1.34" fill="#f0960e"/>
<circle cx="707.3" cy="125.9" r="1.34" fill="#f0960e"/>
<circle cx="431.7" cy="360.0" r="1.39" fill="#f0960e" fill-opacity="0.99"/>
<circle cx="659.0" cy="101.3" r="1.39" fill="#f0960e" fill-opacity="0.99"/>
<circle cx="621.8" cy="132.4" r="1.39" fill="#f0960e" fill-opacity="0.99"/>
<circle cx="651.5" cy="138.4" r="1.39" fill="#f0960e" fill-opacity="0.99"/>
<circle cx="673.8" cy="138.4" r="1.39" fill="#f0960e" fill-opacity="0.99"/>
<circle cx="547.5" cy="40.0" r="1.37" fill="#f0960e" fill-opacity="0.97"/>
<circle cx="569.8" cy="40.0" r="1.37" fill="#f0960e" fill-opacity="0.97"/>
<circle cx="625.6" cy="27.5" r="1.37" fill="#f0960e" fill-opacity="0.97"/>
<circle cx="677.6" cy="76.7" r="1.37" fill="#f0960e" fill-opacity="0.97"/>
<circle cx="268.1" cy="378.9" r="1.30" fill="#f0960e" fill-opacity="0.91"/>
<circle cx="296.1" cy="350.9" r="1.30" fill="#f0960e" fill-opacity="0.91"/>
<circle cx="338.8" cy="360.6" r="1.30" fill="#f0960e" fill-opacity="0.91"/>
<circle cx="383.5" cy="335.2" r="1.30" fill="#f0960e" fill-opacity="0.91"/>
<circle cx="376.0" cy="336.5" r="1.30" fill="#f0960e" fill-opacity="0.91"/>
<circle cx="405.8" cy="335.4" r="1.30" fill="#f0960e" fill-opacity="0.91"/>
<circle cx="387.2" cy="342.1" r="1.30" fill="#f0960e" fill-opacity="0.91"/>
<circle cx="171.6" cy="268.5" r="1.30" fill="#f0960e" fill-opacity="0.91"/>
<circle cx="193.9" cy="268.6" r="1.30" fill="#f0960e" fill-opacity="0.91"/>
<circle cx="242.3" cy="250.1" r="1.30" fill="#f0960e" fill-opacity="0.91"/>
<circle cx="249.7" cy="256.2" r="1.30" fill="#f0960e" fill-opacity="0.91"/>
<circle cx="216.2" cy="268.6" r="1.30" fill="#f0960e" fill-opacity="0.91"/>
<circle cx="201.3" cy="274.6" r="1.30" fill="#f0960e" fill-opacity="0.91"/>
<circle cx="339.0" cy="238.3" r="1.30" fill="#f0960e" fill-opacity="0.91"/>
<circle cx="346.4" cy="244.3" r="1.30" fill="#f0960e" fill-opacity="0.91"/>
<circle cx="402.2" cy="231.9" r="1.30" fill="#f0960e" fill-opacity="0.91"/>
<circle cx="405.9" cy="256.4" r="1.30" fill="#f0960e" fill-opacity="0.91"/>
<circle cx="432.0" cy="237.9" r="1.30" fill="#f0960e" fill-opacity="0.91"/>
<circle cx="450.5" cy="249.5" r="1.30" fill="#f0960e" fill-opacity="0.91"/>
<circle cx="457.9" cy="298.6" r="1.30" fill="#f0960e" fill-opacity="0.91"/>
<circle cx="476.5" cy="274.1" r="1.30" fill="#f0960e" fill-opacity="0.91"/>
<circle cx="558.4" cy="243.1" r="1.30" fill="#f0960e" fill-opacity="0.91"/>
<circle cx="547.2" cy="255.6" r="1.30" fill="#f0960e" fill-opacity="0.91"/>
<circle cx="554.6" cy="261.6" r="1.30" fill="#f0960e" fill-opacity="0.91"/>
<circle cx="562.1" cy="267.6" r="1.30" fill="#f0960e" fill-opacity="0.91"/>
<circle cx="573.3" cy="237.1" r="1.30" fill="#f0960e" fill-opacity="0.91"/>
<circle cx="376.2" cy="225.4" r="1.30" fill="#f0960e" fill-opacity="0.91"/>
<circle cx="517.6" cy="170.4" r="1.30" fill="#f0960e" fill-opacity="0.91"/>
<circle cx="480.3" cy="212.5" r="1.30" fill="#f0960e" fill-opacity="0.91"/>
<circle cx="484.0" cy="219.0" r="1.30" fill="#f0960e" fill-opacity="0.91"/>
<circle cx="539.8" cy="206.5" r="1.30" fill="#f0960e" fill-opacity="0.91"/>
<circle cx="558.4" cy="200.1" r="1.30" fill="#f0960e" fill-opacity="0.91"/>
<circle cx="521.2" cy="206.1" r="1.30" fill="#f0960e" fill-opacity="0.91"/>
<circle cx="565.9" cy="188.0" r="1.30" fill="#f0960e" fill-opacity="0.91"/>
<circle cx="569.6" cy="212.6" r="1.30" fill="#f0960e" fill-opacity="0.91"/>
<circle cx="658.9" cy="187.6" r="1.30" fill="#f0960e" fill-opacity="0.91"/>
<circle cx="677.5" cy="163.0" r="1.30" fill="#f0960e" fill-opacity="0.91"/>
<circle cx="540.0" cy="77.1" r="1.30" fill="#f0960e" fill-opacity="0.91"/>
<circle cx="566.0" cy="101.7" r="1.30" fill="#f0960e" fill-opacity="0.91"/>
<circle cx="621.8" cy="89.2" r="1.30" fill="#f0960e" fill-opacity="0.91"/>
<circle cx="651.6" cy="95.3" r="1.30" fill="#f0960e" fill-opacity="0.91"/>
<circle cx="677.6" cy="119.9" r="1.30" fill="#f0960e" fill-opacity="0.91"/>
<circle cx="457.8" cy="341.5" r="1.22" fill="#f0960e" fill-opacity="0.83"/>
<circle cx="592.0" cy="126.3" r="1.22" fill="#f0960e" fill-opacity="0.83"/>
<circle cx="536.2" cy="138.8" r="1.22" fill="#f0960e" fill-opacity="0.83"/>
<circle cx="633.0" cy="76.7" r="1.22" fill="#f0960e" fill-opacity="0.83"/>
<circle cx="618.1" cy="107.8" r="1.22" fill="#f0960e" fill-opacity="0.83"/>
<circle cx="852.3" cy="174.6" r="1.20" fill="#f0960e" fill-opacity="0.81"/>
<circle cx="703.6" cy="144.5" r="1.20" fill="#f0960e" fill-opacity="0.81"/>
<circle cx="685.0" cy="125.9" r="1.20" fill="#f0960e" fill-opacity="0.81"/>
<circle cx="711.1" cy="107.3" r="1.20" fill="#f0960e" fill-opacity="0.81"/>
<circle cx="688.7" cy="150.5" r="1.20" fill="#f0960e" fill-opacity="0.81"/>
<circle cx="707.4" cy="82.7" r="1.20" fill="#f0960e" fill-opacity="0.81"/>
<circle cx="737.0" cy="131.9" r="1.20" fill="#f0960e" fill-opacity="0.81"/>
<circle cx="684.9" cy="169.0" r="1.20" fill="#f0960e" fill-opacity="0.81"/>
<circle cx="737.0" cy="175.1" r="1.20" fill="#f0960e" fill-opacity="0.81"/>
<circle cx="539.7" cy="310.7" r="1.17" fill="#f0960e" fill-opacity="0.79"/>
<circle cx="535.9" cy="329.2" r="1.17" fill="#f0960e" fill-opacity="0.79"/>
<circle cx="577.3" cy="46.0" r="1.17" fill="#f0960e" fill-opacity="0.79"/>
<circle cx="551.2" cy="64.6" r="1.17" fill="#f0960e" fill-opacity="0.79"/>
<circle cx="655.4" cy="33.5" r="1.17" fill="#f0960e" fill-opacity="0.79"/>
<circle cx="621.9" cy="46.1" r="1.17" fill="#f0960e" fill-opacity="0.79"/>
<circle cx="659.1" cy="58.1" r="1.17" fill="#f0960e" fill-opacity="0.79"/>
<circle cx="681.4" cy="58.1" r="1.17" fill="#f0960e" fill-opacity="0.79"/>
<circle cx="647.9" cy="70.7" r="1.17" fill="#f0960e" fill-opacity="0.79"/>
<circle cx="480.1" cy="341.7" r="1.13" fill="#f0960e" fill-opacity="0.75"/>
<circle cx="502.4" cy="341.7" r="1.13" fill="#f0960e" fill-opacity="0.75"/>
<circle cx="517.2" cy="353.7" r="1.13" fill="#f0960e" fill-opacity="0.75"/>
<circle cx="506.2" cy="323.2" r="1.13" fill="#f0960e" fill-opacity="0.75"/>
<circle cx="603.0" cy="243.1" r="1.09" fill="#f0960e" fill-opacity="0.72"/>
<circle cx="250.0" cy="360.4" r="1.09" fill="#f0960e" fill-opacity="0.72"/>
<circle cx="327.7" cy="347.8" r="1.09" fill="#f0960e" fill-opacity="0.72"/>
<circle cx="323.9" cy="366.5" r="1.09" fill="#f0960e" fill-opacity="0.72"/>
<circle cx="331.4" cy="354.5" r="1.09" fill="#f0960e" fill-opacity="0.72"/>
<circle cx="361.1" cy="360.6" r="1.09" fill="#f0960e" fill-opacity="0.72"/>
<circle cx="409.4" cy="317.0" r="1.09" fill="#f0960e" fill-opacity="0.72"/>
<circle cx="431.8" cy="324.0" r="1.09" fill="#f0960e" fill-opacity="0.72"/>
<circle cx="227.4" cy="256.1" r="1.09" fill="#f0960e" fill-opacity="0.72"/>
<circle cx="350.1" cy="243.9" r="1.09" fill="#f0960e" fill-opacity="0.72"/>
<circle cx="495.1" cy="292.6" r="1.09" fill="#f0960e" fill-opacity="0.72"/>
<circle cx="536.1" cy="243.1" r="1.09" fill="#f0960e" fill-opacity="0.72"/>
<circle cx="521.1" cy="274.1" r="1.09" fill="#f0960e" fill-opacity="0.72"/>
<circle cx="536.0" cy="286.1" r="1.09" fill="#f0960e" fill-opacity="0.72"/>
<circle cx="588.1" cy="249.1" r="1.09" fill="#f0960e" fill-opacity="0.72"/>
<circle cx="576.9" cy="261.6" r="1.09" fill="#f0960e" fill-opacity="0.72"/>
<circle cx="584.4" cy="267.7" r="1.09" fill="#f0960e" fill-opacity="0.72"/>
<circle cx="588.0" cy="292.2" r="1.09" fill="#f0960e" fill-opacity="0.72"/>
<circle cx="316.7" cy="213.2" r="1.09" fill="#f0960e" fill-opacity="0.72"/>
<circle cx="368.8" cy="176.2" r="1.09" fill="#f0960e" fill-opacity="0.72"/>
<circle cx="432.0" cy="176.8" r="1.09" fill="#f0960e" fill-opacity="0.72"/>
<circle cx="402.3" cy="206.9" r="1.09" fill="#f0960e" fill-opacity="0.72"/>
<circle cx="458.0" cy="219.4" r="1.09" fill="#f0960e" fill-opacity="0.72"/>
<circle cx="487.8" cy="207.4" r="1.09" fill="#f0960e" fill-opacity="0.72"/>
<circle cx="461.8" cy="182.8" r="1.09" fill="#f0960e" fill-opacity="0.72"/>
<circle cx="558.5" cy="156.9" r="1.09" fill="#f0960e" fill-opacity="0.72"/>
<circle cx="592.0" cy="169.5" r="1.09" fill="#f0960e" fill-opacity="0.72"/>
<circle cx="532.5" cy="175.5" r="1.09" fill="#f0960e" fill-opacity="0.72"/>
<circle cx="562.2" cy="181.5" r="1.09" fill="#f0960e" fill-opacity="0.72"/>
<circle cx="536.1" cy="200.1" r="1.09" fill="#f0960e" fill-opacity="0.72"/>
<circle cx="562.1" cy="224.6" r="1.09" fill="#f0960e" fill-opacity="0.72"/>
<circle cx="539.8" cy="224.6" r="1.09" fill="#f0960e" fill-opacity="0.72"/>
<circle cx="562.2" cy="163.4" r="1.09" fill="#f0960e" fill-opacity="0.72"/>
<circle cx="588.2" cy="206.1" r="1.09" fill="#f0960e" fill-opacity="0.72"/>
<circle cx="618.0" cy="150.9" r="1.09" fill="#f0960e" fill-opacity="0.72"/>
<circle cx="647.8" cy="157.0" r="1.09" fill="#f0960e" fill-opacity="0.72"/>
<circle cx="651.4" cy="181.6" r="1.09" fill="#f0960e" fill-opacity="0.72"/>
<circle cx="655.1" cy="206.1" r="1.09" fill="#f0960e" fill-opacity="0.72"/>
<circle cx="681.2" cy="169.5" r="1.09" fill="#f0960e" fill-opacity="0.72"/>
<circle cx="510.2" cy="114.2" r="1.09" fill="#f0960e" fill-opacity="0.72"/>
<circle cx="484.2" cy="132.7" r="1.09" fill="#f0960e" fill-opacity="0.72"/>
<circle cx="476.7" cy="144.8" r="1.09" fill="#f0960e" fill-opacity="0.72"/>
<circle cx="525.2" cy="83.1" r="1.09" fill="#f0960e" fill-opacity="0.72"/>
<circle cx="584.6" cy="138.4" r="1.09" fill="#f0960e" fill-opacity="0.72"/>
<circle cx="562.2" cy="145.3" r="1.09" fill="#f0960e" fill-opacity="0.72"/>
<circle cx="636.7" cy="101.3" r="1.09" fill="#f0960e" fill-opacity="0.72"/>
<circle cx="610.6" cy="119.8" r="1.09" fill="#f0960e" fill-opacity="0.72"/>
<circle cx="528.5" cy="323.2" r="0.98" fill="#f0960e" fill-opacity="0.62"/>
<circle cx="558.2" cy="329.2" r="0.98" fill="#f0960e" fill-opacity="0.62"/>
<circle cx="532.2" cy="347.7" r="0.98" fill="#f0960e" fill-opacity="0.62"/>
<circle cx="558.2" cy="354.2" r="0.98" fill="#f0960e" fill-opacity="0.62"/>
<circle cx="573.6" cy="21.4" r="0.98" fill="#f0960e" fill-opacity="0.62"/>
<circle cx="595.9" cy="21.5" r="0.98" fill="#f0960e" fill-opacity="0.62"/>
<circle cx="566.1" cy="58.6" r="0.98" fill="#f0960e" fill-opacity="0.62"/>
<circle cx="674.0" cy="52.1" r="0.98" fill="#f0960e" fill-opacity="0.62"/>
<circle cx="711.1" cy="64.2" r="0.98" fill="#f0960e" fill-opacity="0.62"/>
<circle cx="416.9" cy="348.1" r="0.96" fill="#f0960e" fill-opacity="0.60"/>
<circle cx="424.3" cy="354.1" r="0.96" fill="#f0960e" fill-opacity="0.60"/>
<circle cx="592.1" cy="83.2" r="0.96" fill="#f0960e" fill-opacity="0.60"/>
<circle cx="528.8" cy="107.7" r="0.96" fill="#f0960e" fill-opacity="0.60"/>
<circle cx="673.9" cy="95.3" r="0.96" fill="#f0960e" fill-opacity="0.60"/>
<circle cx="666.4" cy="107.3" r="0.96" fill="#f0960e" fill-opacity="0.60"/>
<circle cx="644.1" cy="132.4" r="0.96" fill="#f0960e" fill-opacity="0.60"/>
<circle cx="614.3" cy="144.4" r="0.96" fill="#f0960e" fill-opacity="0.60"/>
<circle cx="685.1" cy="82.7" r="0.96" fill="#f0960e" fill-opacity="0.60"/>
<circle cx="737.1" cy="88.8" r="0.96" fill="#f0960e" fill-opacity="0.60"/>
<circle cx="681.3" cy="101.3" r="0.96" fill="#f0960e" fill-opacity="0.60"/>
<circle cx="703.6" cy="101.3" r="0.96" fill="#f0960e" fill-opacity="0.60"/>
<circle cx="766.8" cy="138.0" r="0.96" fill="#f0960e" fill-opacity="0.60"/>
<circle cx="826.3" cy="150.1" r="0.96" fill="#f0960e" fill-opacity="0.60"/>
<circle cx="822.5" cy="168.6" r="0.96" fill="#f0960e" fill-opacity="0.60"/>
<circle cx="770.5" cy="162.6" r="0.96" fill="#f0960e" fill-opacity="0.60"/>
<circle cx="740.7" cy="156.5" r="0.96" fill="#f0960e" fill-opacity="0.60"/>
<circle cx="718.4" cy="156.5" r="0.96" fill="#f0960e" fill-opacity="0.60"/>
<circle cx="707.2" cy="169.1" r="0.96" fill="#f0960e" fill-opacity="0.60"/>
<circle cx="692.4" cy="175.1" r="0.96" fill="#f0960e" fill-opacity="0.60"/>
<circle cx="714.7" cy="175.1" r="0.96" fill="#f0960e" fill-opacity="0.60"/>
<circle cx="796.5" cy="187.2" r="0.96" fill="#f0960e" fill-opacity="0.60"/>
<circle cx="688.6" cy="193.6" r="0.96" fill="#f0960e" fill-opacity="0.60"/>
<circle cx="718.3" cy="199.7" r="0.96" fill="#f0960e" fill-opacity="0.60"/>
<circle cx="699.7" cy="224.2" r="0.96" fill="#f0960e" fill-opacity="0.60"/>
<circle cx="755.4" cy="254.7" r="0.96" fill="#f0960e" fill-opacity="0.60"/>
<circle cx="318.3" cy="350.9" r="0.87" fill="#f0960e" fill-opacity="0.52"/>
<circle cx="145.5" cy="287.0" r="0.87" fill="#f0960e" fill-opacity="0.52"/>
<circle cx="305.5" cy="250.7" r="0.87" fill="#f0960e" fill-opacity="0.52"/>
<circle cx="539.7" cy="267.6" r="0.87" fill="#f0960e" fill-opacity="0.52"/>
<circle cx="532.2" cy="304.7" r="0.87" fill="#f0960e" fill-opacity="0.52"/>
<circle cx="554.6" cy="304.7" r="0.87" fill="#f0960e" fill-opacity="0.52"/>
<circle cx="536.2" cy="163.9" r="0.87" fill="#f0960e" fill-opacity="0.52"/>
<circle cx="536.2" cy="182.0" r="0.87" fill="#f0960e" fill-opacity="0.52"/>
<circle cx="577.1" cy="182.5" r="0.87" fill="#f0960e" fill-opacity="0.52"/>
<circle cx="599.3" cy="218.6" r="0.87" fill="#f0960e" fill-opacity="0.52"/>
<circle cx="621.7" cy="175.5" r="0.87" fill="#f0960e" fill-opacity="0.52"/>
<circle cx="625.4" cy="200.1" r="0.87" fill="#f0960e" fill-opacity="0.52"/>
<circle cx="632.9" cy="170.0" r="0.87" fill="#f0960e" fill-opacity="0.52"/>
<circle cx="636.5" cy="194.6" r="0.87" fill="#f0960e" fill-opacity="0.52"/>
<circle cx="614.3" cy="126.3" r="0.87" fill="#f0960e" fill-opacity="0.52"/>
<circle cx="375.9" cy="372.4" r="0.78" fill="#f0960e" fill-opacity="0.44"/>
<circle cx="197.7" cy="250.0" r="0.78" fill="#f0960e" fill-opacity="0.44"/>
<circle cx="562.3" cy="120.3" r="0.78" fill="#f0960e" fill-opacity="0.44"/>
<circle cx="644.1" cy="89.2" r="0.78" fill="#f0960e" fill-opacity="0.44"/>
<circle cx="647.2" cy="347.3" r="0.78" fill="#f0960e" fill-opacity="0.44"/>
<circle cx="651.7" cy="9.0" r="0.78" fill="#f0960e" fill-opacity="0.44"/>
<circle cx="677.7" cy="33.6" r="0.78" fill="#f0960e" fill-opacity="0.44"/>
<circle cx="607.0" cy="52.1" r="0.78" fill="#f0960e" fill-opacity="0.44"/>
<circle cx="632.7" cy="249.2" r="0.76" fill="#f0960e" fill-opacity="0.42"/>
<circle cx="725.7" cy="248.7" r="0.72" fill="#f0960e" fill-opacity="0.38"/>
<circle cx="786.4" cy="252.9" r="0.72" fill="#f0960e" fill-opacity="0.38"/>
<circle cx="733.4" cy="107.3" r="0.72" fill="#f0960e" fill-opacity="0.38"/>
<circle cx="509.9" cy="311.6" r="0.70" fill="#f0960e" fill-opacity="0.36"/>
<circle cx="246.0" cy="231.6" r="0.65" fill="#f0960e" fill-opacity="0.32"/>
<circle cx="268.3" cy="231.7" r="0.65" fill="#f0960e" fill-opacity="0.32"/>
<circle cx="677.3" cy="292.2" r="0.65" fill="#f0960e" fill-opacity="0.32"/>
<circle cx="454.4" cy="169.8" r="0.61" fill="#f0960e" fill-opacity="0.28"/>
<circle cx="568.9" cy="359.7" r="0.59" fill="#f0960e" fill-opacity="0.26"/>
<circle cx="541.1" cy="372.8" r="0.59" fill="#f0960e" fill-opacity="0.26"/>
<circle cx="517.8" cy="33.9" r="0.59" fill="#f0960e" fill-opacity="0.26"/>
<circle cx="685.1" cy="39.6" r="0.59" fill="#f0960e" fill-opacity="0.26"/>
<circle cx="707.4" cy="39.6" r="0.59" fill="#f0960e" fill-opacity="0.26"/>
<circle cx="618.2" cy="64.6" r="0.59" fill="#f0960e" fill-opacity="0.26"/>
<circle cx="370.5" cy="286.1" r="8.25" fill="#4673f0"/>
<circle cx="422.6" cy="249.1" r="7.81" fill="#4673f0"/>
<circle cx="418.9" cy="267.6" r="7.81" fill="#4673f0"/>
<circle cx="296.1" cy="323.1" r="7.37" fill="#4673f0"/>
<circle cx="318.4" cy="323.1" r="7.37" fill="#4673f0"/>
<circle cx="344.5" cy="304.6" r="7.37" fill="#4673f0"/>
<circle cx="396.6" cy="267.6" r="7.37" fill="#4673f0"/>
<circle cx="292.4" cy="298.5" r="7.16" fill="#4673f0"/>
<circle cx="426.2" cy="316.7" r="6.94" fill="#4673f0"/>
<circle cx="344.5" cy="261.5" r="6.72" fill="#4673f0"/>
<circle cx="266.3" cy="317.0" r="6.50" fill="#4673f0"/>
<circle cx="318.5" cy="280.0" r="6.50" fill="#4673f0"/>
<circle cx="392.8" cy="286.1" r="6.50" fill="#4673f0"/>
<circle cx="448.7" cy="230.6" r="6.50" fill="#4673f0"/>
<circle cx="448.6" cy="273.7" r="6.50" fill="#4673f0"/>
<circle cx="292.3" cy="341.6" r="6.07" fill="#4673f0"/>
<circle cx="422.7" cy="206.0" r="5.85" fill="#4673f0"/>
<circle cx="348.2" cy="311.1" r="5.63" fill="#4673f0"/>
<circle cx="370.6" cy="243.0" r="5.63" fill="#4673f0"/>
<circle cx="389.1" cy="261.6" r="5.63" fill="#4673f0"/>
<circle cx="478.4" cy="279.7" r="5.63" fill="#4673f0"/>
<circle cx="396.6" cy="224.5" r="5.63" fill="#4673f0"/>
<circle cx="448.8" cy="187.5" r="5.63" fill="#4673f0"/>
<circle cx="474.8" cy="212.1" r="5.63" fill="#4673f0"/>
<circle cx="474.8" cy="169.0" r="5.41" fill="#4673f0"/>
<circle cx="270.0" cy="341.3" r="5.19" fill="#4673f0"/>
<circle cx="340.7" cy="323.1" r="5.19" fill="#4673f0"/>
<circle cx="322.1" cy="304.6" r="5.19" fill="#4673f0"/>
<circle cx="452.3" cy="298.2" r="5.19" fill="#4673f0"/>
<circle cx="240.3" cy="335.5" r="4.76" fill="#4673f0"/>
<circle cx="348.1" cy="329.1" r="4.76" fill="#4673f0"/>
<circle cx="348.2" cy="286.1" r="4.76" fill="#4673f0"/>
<circle cx="374.3" cy="267.6" r="4.76" fill="#4673f0"/>
<circle cx="400.3" cy="249.1" r="4.76" fill="#4673f0"/>
<circle cx="400.3" cy="292.1" r="4.76" fill="#4673f0"/>
<circle cx="422.6" cy="292.2" r="4.76" fill="#4673f0"/>
<circle cx="444.9" cy="249.1" r="4.76" fill="#4673f0"/>
<circle cx="452.4" cy="255.1" r="4.76" fill="#4673f0"/>
<circle cx="471.0" cy="230.6" r="4.76" fill="#4673f0"/>
<circle cx="500.9" cy="150.5" r="4.76" fill="#4673f0"/>
<circle cx="500.8" cy="193.6" r="4.76" fill="#4673f0"/>
<circle cx="370.5" cy="329.2" r="4.54" fill="#4673f0"/>
<circle cx="396.5" cy="310.7" r="4.32" fill="#4673f0"/>
<circle cx="366.8" cy="304.6" r="4.32" fill="#4673f0"/>
<circle cx="374.2" cy="310.6" r="4.32" fill="#4673f0"/>
<circle cx="392.9" cy="243.1" r="4.32" fill="#4673f0"/>
<circle cx="478.4" cy="236.7" r="4.32" fill="#4673f0"/>
<circle cx="474.7" cy="255.2" r="4.32" fill="#4673f0"/>
<circle cx="497.1" cy="212.1" r="4.32" fill="#4673f0"/>
<circle cx="526.9" cy="175.1" r="4.32" fill="#4673f0"/>
<circle cx="526.9" cy="131.9" r="4.32" fill="#4673f0"/>
<circle cx="400.2" cy="335.2" r="4.10" fill="#4673f0"/>
<circle cx="426.4" cy="230.6" r="4.10" fill="#4673f0"/>
<circle cx="500.7" cy="236.7" r="4.10" fill="#4673f0"/>
<circle cx="419.0" cy="224.6" r="4.10" fill="#4673f0"/>
<circle cx="523.1" cy="193.6" r="4.10" fill="#4673f0"/>
<circle cx="526.8" cy="218.2" r="4.10" fill="#4673f0"/>
<circle cx="188.1" cy="372.4" r="3.88" fill="#4673f0"/>
<circle cx="266.1" cy="360.0" r="3.88" fill="#4673f0"/>
<circle cx="426.3" cy="273.6" r="3.88" fill="#4673f0"/>
<circle cx="471.1" cy="187.6" r="3.88" fill="#4673f0"/>
<circle cx="478.5" cy="193.6" r="3.88" fill="#4673f0"/>
<circle cx="445.0" cy="206.1" r="3.88" fill="#4673f0"/>
<circle cx="452.4" cy="212.1" r="3.88" fill="#4673f0"/>
<circle cx="504.5" cy="218.2" r="3.88" fill="#4673f0"/>
<circle cx="322.0" cy="347.4" r="3.66" fill="#4673f0"/>
<circle cx="344.4" cy="347.7" r="3.66" fill="#4673f0"/>
<circle cx="314.7" cy="298.5" r="3.66" fill="#4673f0"/>
<circle cx="366.8" cy="261.5" r="3.66" fill="#4673f0"/>
<circle cx="444.9" cy="292.2" r="3.66" fill="#4673f0"/>
<circle cx="552.9" cy="156.5" r="3.66" fill="#4673f0"/>
<circle cx="549.2" cy="175.1" r="3.66" fill="#4673f0"/>
<circle cx="214.3" cy="353.7" r="3.44" fill="#4673f0"/>
<circle cx="325.7" cy="328.7" r="3.44" fill="#4673f0"/>
<circle cx="351.9" cy="353.2" r="3.44" fill="#4673f0"/>
<circle cx="422.5" cy="335.2" r="3.44" fill="#4673f0"/>
<circle cx="340.8" cy="280.0" r="3.44" fill="#4673f0"/>
<circle cx="415.1" cy="286.1" r="3.44" fill="#4673f0"/>
<circle cx="474.6" cy="298.2" r="3.44" fill="#4673f0"/>
<circle cx="497.1" cy="169.0" r="3.44" fill="#4673f0"/>
<circle cx="441.3" cy="224.6" r="3.44" fill="#4673f0"/>
<circle cx="530.6" cy="199.7" r="3.44" fill="#4673f0"/>
<circle cx="552.9" cy="199.7" r="3.44" fill="#4673f0"/>
<circle cx="604.9" cy="205.7" r="3.44" fill="#4673f0"/>
<circle cx="553.0" cy="113.4" r="3.44" fill="#4673f0"/>
<circle cx="790.9" cy="143.6" r="3.31" fill="#4673f0"/>
<circle cx="448.6" cy="316.7" r="3.22" fill="#4673f0"/>
<circle cx="470.9" cy="273.7" r="3.22" fill="#4673f0"/>
<circle cx="556.6" cy="181.1" r="3.22" fill="#4673f0"/>
<circle cx="545.4" cy="193.6" r="3.22" fill="#4673f0"/>
<circle cx="556.5" cy="224.2" r="3.22" fill="#4673f0"/>
<circle cx="578.9" cy="181.1" r="3.22" fill="#4673f0"/>
<circle cx="318.3" cy="366.1" r="3.00" fill="#4673f0"/>
<circle cx="392.8" cy="329.2" r="3.00" fill="#4673f0"/>
<circle cx="415.2" cy="243.1" r="3.00" fill="#4673f0"/>
<circle cx="456.1" cy="279.7" r="3.00" fill="#4673f0"/>
<circle cx="482.1" cy="261.2" r="3.00" fill="#4673f0"/>
<circle cx="497.0" cy="255.2" r="3.00" fill="#4673f0"/>
<circle cx="504.4" cy="261.2" r="3.00" fill="#4673f0"/>
<circle cx="508.1" cy="285.7" r="3.00" fill="#4673f0"/>
<circle cx="530.5" cy="242.7" r="3.00" fill="#4673f0"/>
<circle cx="526.7" cy="261.2" r="3.00" fill="#4673f0"/>
<circle cx="504.6" cy="175.1" r="3.00" fill="#4673f0"/>
<circle cx="523.2" cy="150.5" r="3.00" fill="#4673f0"/>
<circle cx="575.2" cy="199.7" r="3.00" fill="#4673f0"/>
<circle cx="549.3" cy="131.9" r="3.00" fill="#4673f0"/>
<circle cx="579.0" cy="138.0" r="3.00" fill="#4673f0"/>
<circle cx="820.7" cy="149.7" r="2.83" fill="#4673f0"/>
<circle cx="850.4" cy="155.7" r="2.83" fill="#4673f0"/>
<circle cx="314.7" cy="341.6" r="2.78" fill="#4673f0"/>
<circle cx="329.5" cy="335.6" r="2.78" fill="#4673f0"/>
<circle cx="288.6" cy="360.1" r="2.78" fill="#4673f0"/>
<circle cx="310.9" cy="360.1" r="2.78" fill="#4673f0"/>
<circle cx="229.2" cy="304.9" r="2.78" fill="#4673f0"/>
<circle cx="389.1" cy="304.6" r="2.78" fill="#4673f0"/>
<circle cx="467.3" cy="249.1" r="2.78" fill="#4673f0"/>
<circle cx="500.7" cy="279.7" r="2.78" fill="#4673f0"/>
<circle cx="523.1" cy="236.7" r="2.78" fill="#4673f0"/>
<circle cx="552.8" cy="242.7" r="2.78" fill="#4673f0"/>
<circle cx="556.5" cy="267.2" r="2.78" fill="#4673f0"/>
<circle cx="467.3" cy="206.1" r="2.78" fill="#4673f0"/>
<circle cx="575.2" cy="156.5" r="2.78" fill="#4673f0"/>
<circle cx="582.7" cy="162.6" r="2.78" fill="#4673f0"/>
<circle cx="582.6" cy="205.7" r="2.78" fill="#4673f0"/>
<circle cx="634.7" cy="211.7" r="2.78" fill="#4673f0"/>
<circle cx="664.4" cy="217.8" r="2.78" fill="#4673f0"/>
<circle cx="579.1" cy="94.8" r="2.78" fill="#4673f0"/>
<circle cx="761.2" cy="137.6" r="2.58" fill="#4673f0"/>
<circle cx="225.4" cy="323.4" r="2.56" fill="#4673f0"/>
<circle cx="288.7" cy="317.0" r="2.56" fill="#4673f0"/>
<circle cx="355.6" cy="317.1" r="2.56" fill="#4673f0"/>
<circle cx="418.8" cy="310.7" r="2.56" fill="#4673f0"/>
<circle cx="199.4" cy="298.8" r="2.56" fill="#4673f0"/>
<circle cx="251.5" cy="304.9" r="2.56" fill="#4673f0"/>
<circle cx="337.0" cy="298.6" r="2.56" fill="#4673f0"/>
<circle cx="363.1" cy="280.1" r="2.56" fill="#4673f0"/>
<circle cx="441.2" cy="267.6" r="2.56" fill="#4673f0"/>
<circle cx="508.2" cy="242.7" r="2.56" fill="#4673f0"/>
<circle cx="504.4" cy="304.2" r="2.56" fill="#4673f0"/>
<circle cx="560.2" cy="248.7" r="2.56" fill="#4673f0"/>
<circle cx="515.7" cy="187.6" r="2.56" fill="#4673f0"/>
<circle cx="519.4" cy="212.1" r="2.56" fill="#4673f0"/>
<circle cx="530.6" cy="156.5" r="2.56" fill="#4673f0"/>
<circle cx="549.1" cy="218.2" r="2.56" fill="#4673f0"/>
<circle cx="534.2" cy="224.2" r="2.56" fill="#4673f0"/>
<circle cx="608.7" cy="187.2" r="2.56" fill="#4673f0"/>
<circle cx="575.3" cy="113.4" r="2.56" fill="#4673f0"/>
<circle cx="601.4" cy="94.8" r="2.56" fill="#4673f0"/>
<circle cx="203.1" cy="323.4" r="2.34" fill="#4673f0"/>
<circle cx="337.0" cy="341.6" r="2.34" fill="#4673f0"/>
<circle cx="296.1" cy="365.9" r="2.34" fill="#4673f0"/>
<circle cx="429.8" cy="341.1" r="2.34" fill="#4673f0"/>
<circle cx="456.0" cy="322.7" r="2.34" fill="#4673f0"/>
<circle cx="478.3" cy="322.7" r="2.34" fill="#4673f0"/>
<circle cx="430.0" cy="298.2" r="2.34" fill="#4673f0"/>
<circle cx="456.1" cy="236.6" r="2.34" fill="#4673f0"/>
<circle cx="519.4" cy="169.0" r="2.34" fill="#4673f0"/>
<circle cx="493.4" cy="187.6" r="2.34" fill="#4673f0"/>
<circle cx="560.3" cy="205.7" r="2.34" fill="#4673f0"/>
<circle cx="578.9" cy="224.2" r="2.34" fill="#4673f0"/>
<circle cx="605.0" cy="162.6" r="2.34" fill="#4673f0"/>
<circle cx="556.7" cy="138.0" r="2.34" fill="#4673f0"/>
<circle cx="631.1" cy="100.9" r="2.34" fill="#4673f0"/>
<circle cx="605.1" cy="119.4" r="2.34" fill="#4673f0"/>
<circle cx="601.3" cy="138.0" r="2.34" fill="#4673f0"/>
<circle cx="731.5" cy="131.5" r="2.34" fill="#4673f0"/>
<circle cx="262.6" cy="335.5" r="2.12" fill="#4673f0"/>
<circle cx="255.1" cy="372.6" r="2.12" fill="#4673f0"/>
<circle cx="281.2" cy="311.0" r="2.12" fill="#4673f0"/>
<circle cx="363.0" cy="323.1" r="2.12" fill="#4673f0"/>
<circle cx="377.8" cy="334.6" r="2.12" fill="#4673f0"/>
<circle cx="366.7" cy="347.7" r="2.12" fill="#4673f0"/>
<circle cx="374.1" cy="353.5" r="2.12" fill="#4673f0"/>
<circle cx="385.3" cy="323.2" r="2.12" fill="#4673f0"/>
<circle cx="396.4" cy="353.7" r="2.12" fill="#4673f0"/>
<circle cx="403.9" cy="316.7" r="2.12" fill="#4673f0"/>
<circle cx="441.1" cy="310.7" r="2.12" fill="#4673f0"/>
<circle cx="277.6" cy="286.4" r="2.12" fill="#4673f0"/>
<circle cx="292.4" cy="280.4" r="2.12" fill="#4673f0"/>
<circle cx="303.6" cy="267.9" r="2.12" fill="#4673f0"/>
<circle cx="307.3" cy="292.5" r="2.12" fill="#4673f0"/>
<circle cx="359.4" cy="255.5" r="2.12" fill="#4673f0"/>
<circle cx="430.1" cy="255.1" r="2.12" fill="#4673f0"/>
<circle cx="482.1" cy="268.1" r="2.12" fill="#4673f0"/>
<circle cx="482.0" cy="304.2" r="2.12" fill="#4673f0"/>
<circle cx="493.3" cy="230.6" r="2.12" fill="#4673f0"/>
<circle cx="534.2" cy="267.2" r="2.12" fill="#4673f0"/>
<circle cx="537.8" cy="291.8" r="2.12" fill="#4673f0"/>
<circle cx="571.5" cy="175.1" r="2.12" fill="#4673f0"/>
<circle cx="612.3" cy="211.7" r="2.12" fill="#4673f0"/>
<circle cx="605.1" cy="76.3" r="2.12" fill="#4673f0"/>
<circle cx="627.4" cy="119.4" r="2.12" fill="#4673f0"/>
<circle cx="608.7" cy="144.0" r="2.12" fill="#4673f0"/>
<circle cx="880.2" cy="161.7" r="2.09" fill="#4673f0"/>
<circle cx="764.9" cy="162.2" r="2.09" fill="#4673f0"/>
<circle cx="824.4" cy="174.2" r="2.09" fill="#4673f0"/>
<circle cx="694.1" cy="223.8" r="2.09" fill="#4673f0"/>
<circle cx="631.2" cy="57.7" r="2.09" fill="#4673f0"/>
<circle cx="188.2" cy="354.4" r="1.89" fill="#4673f0"/>
<circle cx="284.9" cy="335.6" r="1.89" fill="#4673f0"/>
<circle cx="403.7" cy="359.6" r="1.89" fill="#4673f0"/>
<circle cx="281.3" cy="267.9" r="1.89" fill="#4673f0"/>
<circle cx="285.0" cy="292.5" r="1.89" fill="#4673f0"/>
<circle cx="325.9" cy="268.0" r="1.89" fill="#4673f0"/>
<circle cx="333.4" cy="274.0" r="1.89" fill="#4673f0"/>
<circle cx="411.4" cy="304.7" r="1.89" fill="#4673f0"/>
<circle cx="437.5" cy="243.1" r="1.89" fill="#4673f0"/>
<circle cx="493.3" cy="273.7" r="1.89" fill="#4673f0"/>
<circle cx="530.4" cy="285.7" r="1.89" fill="#4673f0"/>
<circle cx="582.5" cy="248.7" r="1.89" fill="#4673f0"/>
<circle cx="545.5" cy="150.5" r="1.89" fill="#4673f0"/>
<circle cx="586.4" cy="187.2" r="1.89" fill="#4673f0"/>
<circle cx="601.2" cy="181.1" r="1.89" fill="#4673f0"/>
<circle cx="634.7" cy="168.6" r="1.89" fill="#4673f0"/>
<circle cx="660.7" cy="193.2" r="1.89" fill="#4673f0"/>
<circle cx="660.9" cy="106.9" r="1.89" fill="#4673f0"/>
<circle cx="657.1" cy="125.5" r="1.89" fill="#4673f0"/>
<circle cx="686.8" cy="131.5" r="1.85" fill="#4673f0"/>
<circle cx="534.1" cy="310.3" r="1.69" fill="#4673f0"/>
<circle cx="258.9" cy="311.0" r="1.67" fill="#4673f0"/>
<circle cx="359.3" cy="341.7" r="1.67" fill="#4673f0"/>
<circle cx="340.6" cy="366.2" r="1.67" fill="#4673f0"/>
<circle cx="452.2" cy="341.3" r="1.67" fill="#4673f0"/>
<circle cx="251.6" cy="261.8" r="1.67" fill="#4673f0"/>
<circle cx="329.7" cy="249.5" r="1.67" fill="#4673f0"/>
<circle cx="333.4" cy="230.9" r="1.67" fill="#4673f0"/>
<circle cx="377.9" cy="292.1" r="1.67" fill="#4673f0"/>
<circle cx="381.7" cy="298.6" r="1.67" fill="#4673f0"/>
<circle cx="404.0" cy="273.6" r="1.67" fill="#4673f0"/>
<circle cx="411.5" cy="261.6" r="1.67" fill="#4673f0"/>
<circle cx="437.5" cy="286.2" r="1.67" fill="#4673f0"/>
<circle cx="485.8" cy="285.7" r="1.67" fill="#4673f0"/>
<circle cx="467.2" cy="292.2" r="1.67" fill="#4673f0"/>
<circle cx="511.8" cy="310.3" r="1.67" fill="#4673f0"/>
<circle cx="519.3" cy="255.2" r="1.67" fill="#4673f0"/>
<circle cx="545.4" cy="236.7" r="1.67" fill="#4673f0"/>
<circle cx="586.2" cy="273.3" r="1.67" fill="#4673f0"/>
<circle cx="463.6" cy="224.6" r="1.67" fill="#4673f0"/>
<circle cx="489.6" cy="206.1" r="1.67" fill="#4673f0"/>
<circle cx="508.2" cy="199.6" r="1.67" fill="#4673f0"/>
<circle cx="482.2" cy="218.1" r="1.67" fill="#4673f0"/>
<circle cx="541.8" cy="169.0" r="1.67" fill="#4673f0"/>
<circle cx="541.7" cy="212.2" r="1.67" fill="#4673f0"/>
<circle cx="571.4" cy="218.2" r="1.67" fill="#4673f0"/>
<circle cx="586.3" cy="230.2" r="1.67" fill="#4673f0"/>
<circle cx="612.4" cy="168.6" r="1.67" fill="#4673f0"/>
<circle cx="601.2" cy="224.2" r="1.67" fill="#4673f0"/>
<circle cx="631.0" cy="187.2" r="1.67" fill="#4673f0"/>
<circle cx="638.4" cy="193.2" r="1.67" fill="#4673f0"/>
<circle cx="664.5" cy="174.7" r="1.67" fill="#4673f0"/>
<circle cx="668.1" cy="199.3" r="1.67" fill="#4673f0"/>
<circle cx="582.7" cy="119.4" r="1.67" fill="#4673f0"/>
<circle cx="571.6" cy="131.9" r="1.67" fill="#4673f0"/>
<circle cx="627.4" cy="76.3" r="1.67" fill="#4673f0"/>
<circle cx="634.8" cy="125.5" r="1.67" fill="#4673f0"/>
<circle cx="738.9" cy="137.6" r="1.60" fill="#4673f0"/>
<circle cx="768.6" cy="143.6" r="1.60" fill="#4673f0"/>
<circle cx="765.0" cy="119.0" r="1.60" fill="#4673f0"/>
<circle cx="824.4" cy="131.1" r="1.60" fill="#4673f0"/>
<circle cx="735.1" cy="156.1" r="1.60" fill="#4673f0"/>
<circle cx="712.8" cy="156.1" r="1.60" fill="#4673f0"/>
<circle cx="742.5" cy="205.3" r="1.60" fill="#4673f0"/>
<circle cx="723.9" cy="229.8" r="1.60" fill="#4673f0"/>
<circle cx="683.1" cy="150.1" r="1.60" fill="#4673f0"/>
<circle cx="616.0" cy="279.3" r="1.55" fill="#4673f0"/>
<circle cx="377.7" cy="378.1" r="1.44" fill="#4673f0"/>
<circle cx="415.1" cy="329.2" r="1.44" fill="#4673f0"/>
<circle cx="470.9" cy="316.7" r="1.44" fill="#4673f0"/>
<circle cx="415.1" cy="293.1" r="1.44" fill="#4673f0"/>
<circle cx="459.7" cy="304.2" r="1.44" fill="#4673f0"/>
<circle cx="463.5" cy="267.7" r="1.44" fill="#4673f0"/>
<circle cx="523.0" cy="279.7" r="1.44" fill="#4673f0"/>
<circle cx="549.1" cy="261.2" r="1.44" fill="#4673f0"/>
<circle cx="575.1" cy="242.7" r="1.44" fill="#4673f0"/>
<circle cx="597.6" cy="156.6" r="1.44" fill="#4673f0"/>
<circle cx="627.3" cy="162.6" r="1.44" fill="#4673f0"/>
<circle cx="642.1" cy="217.8" r="1.44" fill="#4673f0"/>
<circle cx="597.6" cy="113.4" r="1.44" fill="#4673f0"/>
<circle cx="798.4" cy="149.7" r="1.34" fill="#4673f0"/>
<circle cx="794.7" cy="125.1" r="1.34" fill="#4673f0"/>
<circle cx="772.3" cy="168.2" r="1.34" fill="#4673f0"/>
<circle cx="742.6" cy="162.2" r="1.34" fill="#4673f0"/>
<circle cx="772.2" cy="211.3" r="1.34" fill="#4673f0"/>
<circle cx="712.8" cy="199.3" r="1.34" fill="#4673f0"/>
<circle cx="709.2" cy="131.5" r="1.34" fill="#4673f0"/>
<circle cx="683.0" cy="193.2" r="1.34" fill="#4673f0"/>
<circle cx="657.2" cy="39.2" r="1.37" fill="#4673f0" fill-opacity="0.97"/>
<circle cx="653.5" cy="57.7" r="1.37" fill="#4673f0" fill-opacity="0.97"/>
<circle cx="630.9" cy="230.3" r="1.36" fill="#4673f0" fill-opacity="0.96"/>
<circle cx="355.7" cy="335.0" r="1.30" fill="#4673f0" fill-opacity="0.91"/>
<circle cx="329.6" cy="317.5" r="1.30" fill="#4673f0" fill-opacity="0.91"/>
<circle cx="299.8" cy="347.4" r="1.30" fill="#4673f0" fill-opacity="0.91"/>
<circle cx="348.1" cy="372.0" r="1.30" fill="#4673f0" fill-opacity="0.91"/>
<circle cx="433.7" cy="322.6" r="1.30" fill="#4673f0" fill-opacity="0.91"/>
<circle cx="437.4" cy="329.2" r="1.30" fill="#4673f0" fill-opacity="0.91"/>
<circle cx="459.6" cy="347.1" r="1.30" fill="#4673f0" fill-opacity="0.91"/>
<circle cx="485.7" cy="328.5" r="1.30" fill="#4673f0" fill-opacity="0.91"/>
<circle cx="433.7" cy="279.7" r="1.30" fill="#4673f0" fill-opacity="0.91"/>
<circle cx="441.2" cy="249.6" r="1.30" fill="#4673f0" fill-opacity="0.91"/>
<circle cx="489.5" cy="292.2" r="1.30" fill="#4673f0" fill-opacity="0.91"/>
<circle cx="489.6" cy="249.2" r="1.30" fill="#4673f0" fill-opacity="0.91"/>
<circle cx="496.9" cy="298.2" r="1.30" fill="#4673f0" fill-opacity="0.91"/>
<circle cx="563.9" cy="273.3" r="1.30" fill="#4673f0" fill-opacity="0.91"/>
<circle cx="590.0" cy="254.8" r="1.30" fill="#4673f0" fill-opacity="0.91"/>
<circle cx="657.0" cy="168.6" r="1.30" fill="#4673f0" fill-opacity="0.91"/>
<circle cx="657.2" cy="82.3" r="1.30" fill="#4673f0" fill-opacity="0.91"/>
<circle cx="660.8" cy="150.1" r="1.30" fill="#4673f0" fill-opacity="0.91"/>
<circle cx="560.2" cy="291.8" r="1.22" fill="#4673f0" fill-opacity="0.83"/>
<circle cx="578.8" cy="267.3" r="1.22" fill="#4673f0" fill-opacity="0.83"/>
<circle cx="623.7" cy="94.8" r="1.22" fill="#4673f0" fill-opacity="0.83"/>
<circle cx="608.8" cy="100.9" r="1.22" fill="#4673f0" fill-opacity="0.83"/>
<circle cx="653.4" cy="100.9" r="1.22" fill="#4673f0" fill-opacity="0.83"/>
<circle cx="623.6" cy="138.0" r="1.22" fill="#4673f0" fill-opacity="0.83"/>
<circle cx="653.4" cy="144.0" r="1.22" fill="#4673f0" fill-opacity="0.83"/>
<circle cx="616.0" cy="236.3" r="1.20" fill="#4673f0" fill-opacity="0.81"/>
<circle cx="660.6" cy="236.3" r="1.20" fill="#4673f0" fill-opacity="0.81"/>
<circle cx="828.1" cy="155.7" r="1.20" fill="#4673f0" fill-opacity="0.81"/>
<circle cx="854.2" cy="137.1" r="1.20" fill="#4673f0" fill-opacity="0.81"/>
<circle cx="798.4" cy="106.5" r="1.20" fill="#4673f0" fill-opacity="0.81"/>
<circle cx="869.1" cy="131.1" r="1.20" fill="#4673f0" fill-opacity="0.81"/>
<circle cx="854.1" cy="180.3" r="1.20" fill="#4673f0" fill-opacity="0.81"/>
<circle cx="802.0" cy="217.3" r="1.20" fill="#4673f0" fill-opacity="0.81"/>
<circle cx="720.2" cy="205.3" r="1.20" fill="#4673f0" fill-opacity="0.81"/>
<circle cx="746.3" cy="186.8" r="1.20" fill="#4673f0" fill-opacity="0.81"/>
<circle cx="768.6" cy="186.8" r="1.20" fill="#4673f0" fill-opacity="0.81"/>
<circle cx="753.6" cy="235.8" r="1.20" fill="#4673f0" fill-opacity="0.81"/>
<circle cx="690.4" cy="242.3" r="1.20" fill="#4673f0" fill-opacity="0.81"/>
<circle cx="716.6" cy="137.6" r="1.20" fill="#4673f0" fill-opacity="0.81"/>
<circle cx="690.6" cy="113.0" r="1.20" fill="#4673f0" fill-opacity="0.81"/>
<circle cx="705.5" cy="106.9" r="1.20" fill="#4673f0" fill-opacity="0.81"/>
<circle cx="701.7" cy="125.5" r="1.20" fill="#4673f0" fill-opacity="0.81"/>
<circle cx="739.0" cy="94.4" r="1.20" fill="#4673f0" fill-opacity="0.81"/>
<circle cx="686.8" cy="174.7" r="1.20" fill="#4673f0" fill-opacity="0.81"/>
<circle cx="694.2" cy="180.7" r="1.20" fill="#4673f0" fill-opacity="0.81"/>
<circle cx="575.0" cy="310.8" r="1.17" fill="#4673f0" fill-opacity="0.79"/>
<circle cx="596.9" cy="303.5" r="1.17" fill="#4673f0" fill-opacity="0.79"/>
<circle cx="604.8" cy="248.8" r="1.09" fill="#4673f0" fill-opacity="0.72"/>
<circle cx="612.3" cy="254.8" r="1.09" fill="#4673f0" fill-opacity="0.72"/>
<circle cx="325.8" cy="354.1" r="1.09" fill="#4673f0" fill-opacity="0.72"/>
<circle cx="333.2" cy="360.2" r="1.09" fill="#4673f0" fill-opacity="0.72"/>
<circle cx="355.5" cy="377.8" r="1.09" fill="#4673f0" fill-opacity="0.72"/>
<circle cx="389.0" cy="347.7" r="1.09" fill="#4673f0" fill-opacity="0.72"/>
<circle cx="444.8" cy="335.2" r="1.09" fill="#4673f0" fill-opacity="0.72"/>
<circle cx="508.0" cy="328.8" r="1.09" fill="#4673f0" fill-opacity="0.72"/>
<circle cx="500.6" cy="322.8" r="1.09" fill="#4673f0" fill-opacity="0.72"/>
<circle cx="463.4" cy="310.7" r="1.09" fill="#4673f0" fill-opacity="0.72"/>
<circle cx="407.7" cy="280.1" r="1.09" fill="#4673f0" fill-opacity="0.72"/>
<circle cx="459.8" cy="261.2" r="1.09" fill="#4673f0" fill-opacity="0.72"/>
<circle cx="515.6" cy="230.7" r="1.09" fill="#4673f0" fill-opacity="0.72"/>
<circle cx="537.8" cy="298.7" r="1.09" fill="#4673f0" fill-opacity="0.72"/>
<circle cx="552.7" cy="285.8" r="1.09" fill="#4673f0" fill-opacity="0.72"/>
<circle cx="601.1" cy="249.2" r="1.09" fill="#4673f0" fill-opacity="0.72"/>
<circle cx="567.8" cy="150.5" r="1.09" fill="#4673f0" fill-opacity="0.72"/>
<circle cx="534.3" cy="181.1" r="1.09" fill="#4673f0" fill-opacity="0.72"/>
<circle cx="590.0" cy="211.7" r="1.09" fill="#4673f0" fill-opacity="0.72"/>
<circle cx="597.5" cy="199.7" r="1.09" fill="#4673f0" fill-opacity="0.72"/>
<circle cx="616.1" cy="193.2" r="1.09" fill="#4673f0" fill-opacity="0.72"/>
<circle cx="627.2" cy="205.7" r="1.09" fill="#4673f0" fill-opacity="0.72"/>
<circle cx="664.5" cy="131.5" r="1.09" fill="#4673f0" fill-opacity="0.72"/>
<circle cx="675.7" cy="144.1" r="1.09" fill="#4673f0" fill-opacity="0.72"/>
<circle cx="645.7" cy="285.3" r="0.98" fill="#4673f0" fill-opacity="0.62"/>
<circle cx="683.3" cy="20.6" r="0.98" fill="#4673f0" fill-opacity="0.62"/>
<circle cx="660.9" cy="63.8" r="0.98" fill="#4673f0" fill-opacity="0.62"/>
<circle cx="370.3" cy="372.0" r="0.96" fill="#4673f0" fill-opacity="0.60"/>
<circle cx="593.9" cy="132.0" r="0.96" fill="#4673f0" fill-opacity="0.60"/>
<circle cx="857.9" cy="161.7" r="0.96" fill="#4673f0" fill-opacity="0.60"/>
<circle cx="828.2" cy="112.5" r="0.96" fill="#4673f0" fill-opacity="0.60"/>
<circle cx="857.9" cy="118.6" r="0.96" fill="#4673f0" fill-opacity="0.60"/>
<circle cx="876.5" cy="137.1" r="0.96" fill="#4673f0" fill-opacity="0.60"/>
<circle cx="817.0" cy="125.1" r="0.96" fill="#4673f0" fill-opacity="0.60"/>
<circle cx="802.1" cy="174.2" r="0.96" fill="#4673f0" fill-opacity="0.60"/>
<circle cx="831.7" cy="223.4" r="0.96" fill="#4673f0" fill-opacity="0.60"/>
<circle cx="776.0" cy="192.8" r="0.96" fill="#4673f0" fill-opacity="0.60"/>
<circle cx="783.4" cy="241.9" r="0.96" fill="#4673f0" fill-opacity="0.60"/>
<circle cx="683.2" cy="106.9" r="0.96" fill="#4673f0" fill-opacity="0.60"/>
<circle cx="686.9" cy="88.4" r="0.96" fill="#4673f0" fill-opacity="0.60"/>
<circle cx="735.2" cy="113.0" r="0.96" fill="#4673f0" fill-opacity="0.60"/>
<circle cx="709.1" cy="174.7" r="0.96" fill="#4673f0" fill-opacity="0.60"/>
<circle cx="716.5" cy="180.7" r="0.96" fill="#4673f0" fill-opacity="0.60"/>
<circle cx="690.5" cy="156.1" r="0.96" fill="#4673f0" fill-opacity="0.60"/>
<circle cx="705.4" cy="150.1" r="0.96" fill="#4673f0" fill-opacity="0.60"/>
<circle cx="701.6" cy="229.8" r="0.96" fill="#4673f0" fill-opacity="0.60"/>
<circle cx="251.5" cy="286.9" r="0.87" fill="#4673f0" fill-opacity="0.52"/>
<circle cx="537.9" cy="248.7" r="0.87" fill="#4673f0" fill-opacity="0.52"/>
<circle cx="526.7" cy="304.3" r="0.87" fill="#4673f0" fill-opacity="0.52"/>
<circle cx="303.7" cy="224.9" r="0.87" fill="#4673f0" fill-opacity="0.52"/>
<circle cx="512.0" cy="206.1" r="0.87" fill="#4673f0" fill-opacity="0.52"/>
<circle cx="485.9" cy="224.6" r="0.87" fill="#4673f0" fill-opacity="0.52"/>
<circle cx="567.7" cy="193.7" r="0.87" fill="#4673f0" fill-opacity="0.52"/>
<circle cx="653.3" cy="187.2" r="0.87" fill="#4673f0" fill-opacity="0.52"/>
<circle cx="657.0" cy="211.8" r="0.87" fill="#4673f0" fill-opacity="0.52"/>
<circle cx="668.2" cy="156.1" r="0.87" fill="#4673f0" fill-opacity="0.52"/>
<circle cx="586.4" cy="144.0" r="0.87" fill="#4673f0" fill-opacity="0.52"/>
<circle cx="672.0" cy="119.5" r="0.87" fill="#4673f0" fill-opacity="0.52"/>
<circle cx="846.7" cy="131.1" r="0.84" fill="#4673f0" fill-opacity="0.49"/>
<circle cx="415.0" cy="372.3" r="0.78" fill="#4673f0" fill-opacity="0.44"/>
<circle cx="713.0" cy="76.8" r="0.78" fill="#4673f0" fill-opacity="0.44"/>
<circle cx="850.5" cy="112.5" r="0.72" fill="#4673f0" fill-opacity="0.38"/>
<circle cx="831.8" cy="180.3" r="0.72" fill="#4673f0" fill-opacity="0.38"/>
<circle cx="798.3" cy="192.8" r="0.72" fill="#4673f0" fill-opacity="0.38"/>
<circle cx="805.7" cy="198.8" r="0.72" fill="#4673f0" fill-opacity="0.38"/>
<circle cx="768.5" cy="229.8" r="0.72" fill="#4673f0" fill-opacity="0.38"/>
<circle cx="720.3" cy="162.2" r="0.72" fill="#4673f0" fill-opacity="0.38"/>
<circle cx="582.5" cy="291.8" r="0.65" fill="#4673f0" fill-opacity="0.32"/>
<circle cx="608.5" cy="273.3" r="0.65" fill="#4673f0" fill-opacity="0.32"/>
<circle cx="683.2" cy="63.8" r="0.59" fill="#4673f0" fill-opacity="0.26"/>
<circle cx="512.2" cy="76.7" r="0.55" fill="#4673f0" fill-opacity="0.20"/>
<circle cx="506.3" cy="266.8" r="6.07" fill="#e92e38"/>
<circle cx="379.6" cy="340.6" r="5.41" fill="#e92e38"/>
<circle cx="405.7" cy="322.2" r="4.54" fill="#e92e38"/>
<circle cx="532.3" cy="248.3" r="4.32" fill="#e92e38"/>
<circle cx="431.8" cy="303.8" r="4.10" fill="#e92e38"/>
<circle cx="457.9" cy="285.3" r="4.10" fill="#e92e38"/>
<circle cx="480.2" cy="285.3" r="4.10" fill="#e92e38"/>
<circle cx="506.3" cy="223.8" r="4.10" fill="#e92e38"/>
<circle cx="532.4" cy="205.3" r="4.10" fill="#e92e38"/>
<circle cx="454.2" cy="303.8" r="3.88" fill="#e92e38"/>
<circle cx="480.3" cy="242.3" r="3.88" fill="#e92e38"/>
<circle cx="484.0" cy="266.8" r="3.88" fill="#e92e38"/>
<circle cx="510.0" cy="248.3" r="3.88" fill="#e92e38"/>
<circle cx="536.0" cy="272.9" r="3.88" fill="#e92e38"/>
<circle cx="558.5" cy="186.8" r="3.88" fill="#e92e38"/>
<circle cx="558.4" cy="229.8" r="3.88" fill="#e92e38"/>
<circle cx="536.1" cy="229.8" r="3.88" fill="#e92e38"/>
<circle cx="428.1" cy="322.3" r="3.66" fill="#e92e38"/>
<circle cx="428.2" cy="279.3" r="3.66" fill="#e92e38"/>
<circle cx="454.2" cy="260.8" r="3.66" fill="#e92e38"/>
<circle cx="584.5" cy="168.2" r="3.66" fill="#e92e38"/>
<circle cx="562.1" cy="211.3" r="3.66" fill="#e92e38"/>
<circle cx="584.5" cy="211.3" r="3.66" fill="#e92e38"/>
<circle cx="402.1" cy="297.8" r="3.44" fill="#e92e38"/>
<circle cx="502.5" cy="285.3" r="3.44" fill="#e92e38"/>
<circle cx="353.7" cy="359.1" r="3.22" fill="#e92e38"/>
<circle cx="376.0" cy="316.3" r="3.22" fill="#e92e38"/>
<circle cx="528.6" cy="266.8" r="3.22" fill="#e92e38"/>
<circle cx="562.1" cy="254.4" r="3.22" fill="#e92e38"/>
<circle cx="610.5" cy="192.8" r="3.22" fill="#e92e38"/>
<circle cx="610.6" cy="149.7" r="3.22" fill="#e92e38"/>
<circle cx="510.0" cy="291.4" r="3.00" fill="#e92e38"/>
<circle cx="532.3" cy="291.4" r="3.00" fill="#e92e38"/>
<circle cx="554.6" cy="248.3" r="3.00" fill="#e92e38"/>
<circle cx="588.1" cy="235.9" r="3.00" fill="#e92e38"/>
<circle cx="588.2" cy="192.8" r="3.00" fill="#e92e38"/>
<circle cx="350.0" cy="334.6" r="2.78" fill="#e92e38"/>
<circle cx="402.0" cy="340.6" r="2.78" fill="#e92e38"/>
<circle cx="457.8" cy="328.3" r="2.78" fill="#e92e38"/>
<circle cx="502.6" cy="242.3" r="2.78" fill="#e92e38"/>
<circle cx="584.4" cy="254.4" r="2.78" fill="#e92e38"/>
<circle cx="614.2" cy="217.4" r="2.78" fill="#e92e38"/>
<circle cx="636.6" cy="174.3" r="2.78" fill="#e92e38"/>
<circle cx="476.5" cy="303.8" r="2.56" fill="#e92e38"/>
<circle cx="483.9" cy="309.9" r="2.56" fill="#e92e38"/>
<circle cx="498.8" cy="260.8" r="2.56" fill="#e92e38"/>
<circle cx="524.9" cy="242.3" r="2.56" fill="#e92e38"/>
<circle cx="558.3" cy="272.9" r="2.56" fill="#e92e38"/>
<circle cx="565.8" cy="278.9" r="2.56" fill="#e92e38"/>
<circle cx="528.7" cy="223.8" r="2.56" fill="#e92e38"/>
<circle cx="580.7" cy="229.8" r="2.56" fill="#e92e38"/>
<circle cx="614.3" cy="174.3" r="2.56" fill="#e92e38"/>
<circle cx="640.3" cy="198.9" r="2.56" fill="#e92e38"/>
<circle cx="636.6" cy="131.1" r="2.56" fill="#e92e38"/>
<circle cx="591.7" cy="310.4" r="2.49" fill="#e92e38"/>
<circle cx="610.4" cy="235.9" r="2.39" fill="#e92e38"/>
<circle cx="431.7" cy="346.7" r="2.34" fill="#e92e38"/>
<circle cx="424.4" cy="297.8" r="2.34" fill="#e92e38"/>
<circle cx="476.5" cy="260.8" r="2.34" fill="#e92e38"/>
<circle cx="554.7" cy="205.3" r="2.34" fill="#e92e38"/>
<circle cx="375.9" cy="359.3" r="2.12" fill="#e92e38"/>
<circle cx="405.7" cy="365.2" r="2.12" fill="#e92e38"/>
<circle cx="472.8" cy="279.3" r="2.12" fill="#e92e38"/>
<circle cx="536.0" cy="279.8" r="2.12" fill="#e92e38"/>
<circle cx="562.0" cy="297.4" r="2.12" fill="#e92e38"/>
<circle cx="551.0" cy="223.8" r="2.12" fill="#e92e38"/>
<circle cx="580.8" cy="186.8" r="2.12" fill="#e92e38"/>
<circle cx="606.8" cy="211.3" r="2.12" fill="#e92e38"/>
<circle cx="640.3" cy="155.7" r="2.12" fill="#e92e38"/>
<circle cx="662.6" cy="155.7" r="2.12" fill="#e92e38"/>
<circle cx="435.4" cy="371.3" r="1.89" fill="#e92e38"/>
<circle cx="591.8" cy="260.4" r="1.89" fill="#e92e38"/>
<circle cx="588.1" cy="278.9" r="1.89" fill="#e92e38"/>
<circle cx="491.5" cy="175.6" r="1.89" fill="#e92e38"/>
<circle cx="606.8" cy="168.2" r="1.89" fill="#e92e38"/>
<circle cx="632.8" cy="192.8" r="1.89" fill="#e92e38"/>
<circle cx="636.5" cy="217.4" r="1.89" fill="#e92e38"/>
<circle cx="662.7" cy="112.6" r="1.89" fill="#e92e38"/>
<circle cx="614.1" cy="260.4" r="1.67" fill="#e92e38"/>
<circle cx="323.9" cy="353.0" r="1.67" fill="#e92e38"/>
<circle cx="506.2" cy="309.9" r="1.67" fill="#e92e38"/>
<circle cx="543.4" cy="278.9" r="1.67" fill="#e92e38"/>
<circle cx="577.0" cy="205.3" r="1.67" fill="#e92e38"/>
<circle cx="666.3" cy="180.3" r="1.67" fill="#e92e38"/>
<circle cx="714.8" cy="118.6" r="1.60" fill="#e92e38"/>
<circle cx="539.7" cy="297.4" r="1.44" fill="#e92e38"/>
<circle cx="603.1" cy="186.8" r="1.44" fill="#e92e38"/>
<circle cx="658.9" cy="174.3" r="1.44" fill="#e92e38"/>
<circle cx="662.6" cy="198.9" r="1.44" fill="#e92e38"/>
<circle cx="670.0" cy="204.9" r="1.44" fill="#e92e38"/>
<circle cx="617.9" cy="241.9" r="1.44" fill="#e92e38"/>
<circle cx="688.8" cy="94.0" r="1.34" fill="#e92e38"/>
<circle cx="688.7" cy="137.2" r="1.34" fill="#e92e38"/>
<circle cx="535.9" cy="315.9" r="1.37" fill="#e92e38" fill-opacity="0.97"/>
<circle cx="480.2" cy="328.4" r="1.30" fill="#e92e38" fill-opacity="0.91"/>
<circle cx="509.8" cy="334.2" r="1.30" fill="#e92e38" fill-opacity="0.91"/>
<circle cx="433.7" cy="275.9" r="1.30" fill="#e92e38" fill-opacity="0.91"/>
<circle cx="539.8" cy="254.3" r="1.30" fill="#e92e38" fill-opacity="0.91"/>
<circle cx="629.1" cy="211.3" r="1.30" fill="#e92e38" fill-opacity="0.91"/>
<circle cx="643.9" cy="223.4" r="1.30" fill="#e92e38" fill-opacity="0.91"/>
<circle cx="666.4" cy="137.2" r="1.30" fill="#e92e38" fill-opacity="0.91"/>
<circle cx="632.9" cy="149.7" r="1.30" fill="#e92e38" fill-opacity="0.91"/>
<circle cx="394.5" cy="377.6" r="1.22" fill="#e92e38" fill-opacity="0.83"/>
<circle cx="427.8" cy="365.0" r="1.22" fill="#e92e38" fill-opacity="0.83"/>
<circle cx="603.0" cy="229.8" r="1.20" fill="#e92e38" fill-opacity="0.81"/>
<circle cx="696.1" cy="186.4" r="1.20" fill="#e92e38" fill-opacity="0.81"/>
<circle cx="692.3" cy="204.9" r="1.20" fill="#e92e38" fill-opacity="0.81"/>
<circle cx="688.6" cy="223.4" r="1.20" fill="#e92e38" fill-opacity="0.81"/>
<circle cx="699.7" cy="235.9" r="1.20" fill="#e92e38" fill-opacity="0.81"/>
<circle cx="487.6" cy="334.2" r="1.09" fill="#e92e38" fill-opacity="0.72"/>
<circle cx="495.0" cy="340.3" r="1.09" fill="#e92e38" fill-opacity="0.72"/>
<circle cx="517.2" cy="297.1" r="1.09" fill="#e92e38" fill-opacity="0.72"/>
<circle cx="565.8" cy="235.8" r="1.09" fill="#e92e38" fill-opacity="0.72"/>
<circle cx="577.0" cy="248.3" r="1.09" fill="#e92e38" fill-opacity="0.72"/>
<circle cx="569.5" cy="260.4" r="1.09" fill="#e92e38" fill-opacity="0.72"/>
<circle cx="573.3" cy="223.8" r="1.09" fill="#e92e38" fill-opacity="0.72"/>
<circle cx="591.9" cy="217.3" r="1.09" fill="#e92e38" fill-opacity="0.72"/>
<circle cx="599.3" cy="205.3" r="1.09" fill="#e92e38" fill-opacity="0.72"/>
<circle cx="629.1" cy="168.2" r="1.09" fill="#e92e38" fill-opacity="0.72"/>
<circle cx="659.0" cy="131.1" r="1.09" fill="#e92e38" fill-opacity="0.72"/>
<circle cx="710.8" cy="291.4" r="1.04" fill="#e92e38" fill-opacity="0.68"/>
<circle cx="606.7" cy="254.4" r="0.98" fill="#e92e38" fill-opacity="0.62"/>
<circle cx="621.5" cy="291.4" r="0.98" fill="#e92e38" fill-opacity="0.62"/>
<circle cx="692.4" cy="161.8" r="0.96" fill="#e92e38" fill-opacity="0.60"/>
<circle cx="699.8" cy="192.9" r="0.96" fill="#e92e38" fill-opacity="0.60"/>
<circle cx="692.3" cy="211.8" r="0.96" fill="#e92e38" fill-opacity="0.60"/>
<circle cx="718.3" cy="229.4" r="0.96" fill="#e92e38" fill-opacity="0.60"/>
<circle cx="744.5" cy="124.7" r="0.96" fill="#e92e38" fill-opacity="0.60"/>
<circle cx="394.6" cy="334.8" r="0.87" fill="#e92e38" fill-opacity="0.52"/>
<circle cx="547.2" cy="242.3" r="0.87" fill="#e92e38" fill-opacity="0.52"/>
<circle cx="554.6" cy="291.4" r="0.87" fill="#e92e38" fill-opacity="0.52"/>
<circle cx="580.6" cy="272.9" r="0.87" fill="#e92e38" fill-opacity="0.52"/>
<circle cx="453.9" cy="346.7" r="0.78" fill="#e92e38" fill-opacity="0.44"/>
<circle cx="589.5" cy="355.8" r="0.78" fill="#e92e38" fill-opacity="0.44"/>
<circle cx="722.0" cy="210.9" r="0.72" fill="#e92e38" fill-opacity="0.38"/>
<circle cx="848.6" cy="136.7" r="0.72" fill="#e92e38" fill-opacity="0.38"/>
<circle cx="818.9" cy="130.7" r="0.72" fill="#e92e38" fill-opacity="0.38"/>
<circle cx="751.8" cy="223.9" r="0.72" fill="#e92e38" fill-opacity="0.38"/>
<circle cx="513.6" cy="322.8" r="0.65" fill="#e92e38" fill-opacity="0.32"/>
<circle cx="591.7" cy="303.4" r="0.65" fill="#e92e38" fill-opacity="0.32"/>
<circle cx="589.9" cy="284.5" r="3.00" fill="#a4563a"/>
<circle cx="541.5" cy="302.6" r="2.56" fill="#a4563a"/>
<circle cx="515.4" cy="321.3" r="2.34" fill="#a4563a"/>
<circle cx="593.7" cy="266.0" r="2.34" fill="#a4563a"/>
<circle cx="619.7" cy="247.5" r="2.23" fill="#a4563a"/>
<circle cx="645.8" cy="229.0" r="2.12" fill="#a4563a"/>
<circle cx="567.6" cy="284.5" r="2.12" fill="#a4563a"/>
<circle cx="671.8" cy="210.5" r="1.67" fill="#a4563a"/>
<circle cx="409.4" cy="346.7" r="1.44" fill="#a4563a"/>
<circle cx="616.0" cy="266.0" r="1.36" fill="#a4563a" fill-opacity="0.96"/>
<circle cx="514.3" cy="272.8" r="1.30" fill="#a4563a" fill-opacity="0.91"/>
<circle cx="697.8" cy="235.0" r="1.20" fill="#a4563a" fill-opacity="0.81"/>
<circle cx="232.8" cy="329.1" r="0.87" fill="#a4563a" fill-opacity="0.52"/>
<circle cx="645.7" cy="272.0" r="0.76" fill="#a4563a" fill-opacity="0.42"/>
</g>
<g stroke="#000" stroke-width="2.0" fill="none" stroke-linecap="butt">
<rect x="99.0" y="1.0" width="799.0" height="391.0"/>
<line x1="154.7" y1="392.0" x2="154.7" y2="383.2"/>
<line x1="154.7" y1="1.0" x2="154.7" y2="9.8"/>
<line x1="247.7" y1="392.0" x2="247.7" y2="383.2"/>
<line x1="247.7" y1="1.0" x2="247.7" y2="9.8"/>
<line x1="340.6" y1="392.0" x2="340.6" y2="383.2"/>
<line x1="340.6" y1="1.0" x2="340.6" y2="9.8"/>
<line x1="433.6" y1="392.0" x2="433.6" y2="383.2"/>
<line x1="433.6" y1="1.0" x2="433.6" y2="9.8"/>
<line x1="526.6" y1="392.0" x2="526.6" y2="383.2"/>
<line x1="526.6" y1="1.0" x2="526.6" y2="9.8"/>
<line x1="619.5" y1="392.0" x2="619.5" y2="383.2"/>
<line x1="619.5" y1="1.0" x2="619.5" y2="9.8"/>
<line x1="712.5" y1="392.0" x2="712.5" y2="383.2"/>
<line x1="712.5" y1="1.0" x2="712.5" y2="9.8"/>
<line x1="805.5" y1="392.0" x2="805.5" y2="383.2"/>
<line x1="805.5" y1="1.0" x2="805.5" y2="9.8"/>
<line x1="99.0" y1="374.6" x2="107.8" y2="374.6"/>
<line x1="898.0" y1="374.6" x2="889.2" y2="374.6"/>
<line x1="99.0" y1="315.3" x2="107.8" y2="315.3"/>
<line x1="898.0" y1="315.3" x2="889.2" y2="315.3"/>
<line x1="99.0" y1="256.0" x2="107.8" y2="256.0"/>
<line x1="898.0" y1="256.0" x2="889.2" y2="256.0"/>
<line x1="99.0" y1="196.7" x2="107.8" y2="196.7"/>
<line x1="898.0" y1="196.7" x2="889.2" y2="196.7"/>
<line x1="99.0" y1="137.4" x2="107.8" y2="137.4"/>
<line x1="898.0" y1="137.4" x2="889.2" y2="137.4"/>
<line x1="99.0" y1="78.1" x2="107.8" y2="78.1"/>
<line x1="898.0" y1="78.1" x2="889.2" y2="78.1"/>
<line x1="99.0" y1="18.8" x2="107.8" y2="18.8"/>
<line x1="898.0" y1="18.8" x2="889.2" y2="18.8"/>
</g>
<g font-size="26" text-anchor="middle">
<text transform="translate(154.8,426.1) scale(1,1.06)">150</text>
<text transform="translate(247.8,426.1) scale(1,1.06)">200</text>
<text transform="translate(340.7,426.1) scale(1,1.06)">250</text>
<text transform="translate(433.7,426.1) scale(1,1.06)">300</text>
<text transform="translate(526.7,426.1) scale(1,1.06)">350</text>
<text transform="translate(619.6,426.1) scale(1,1.06)">400</text>
<text transform="translate(712.6,426.1) scale(1,1.06)">450</text>
<text transform="translate(805.6,426.1) scale(1,1.06)">500</text>
<text transform="translate(898.5,426.1) scale(1,1.06)">550</text>
</g>
<g font-size="26" text-anchor="end">
<text transform="translate(91.2,385.0) scale(1,1.06)">0</text>
<text transform="translate(91.2,325.7) scale(1,1.06)">0.05</text>
<text transform="translate(91.2,266.4) scale(1,1.06)">0.1</text>
<text transform="translate(91.2,207.1) scale(1,1.06)">0.15</text>
<text transform="translate(91.2,147.8) scale(1,1.06)">0.2</text>
<text transform="translate(91.2,88.5) scale(1,1.06)">0.25</text>
<text transform="translate(91.2,29.2) scale(1,1.06)">0.3</text>
</g>
<text x="499" y="462.5" font-size="29.3" text-anchor="middle">Mass (Da)</text>
<text transform="translate(29.5,196) rotate(-90)" font-size="29.3" text-anchor="middle">Mass Defect (Da)</text>
<text x="-0.2" y="29.0" font-size="28.6" font-weight="bold">(a)</text>
<circle cx="122.5" cy="31.0" r="2.7" fill="#5cc65a"/>
<text x="138" y="35.5" font-size="24.8">CHON<tspan dy="12.5" font-size="21">0</tspan></text>
<circle cx="122.5" cy="73.5" r="2.7" fill="#f0960e"/>
<text x="138" y="78.0" font-size="24.8">CHON<tspan dy="12.5" font-size="21">1</tspan></text>
<circle cx="122.5" cy="116.0" r="2.7" fill="#4673f0"/>
<text x="138" y="120.5" font-size="24.8">CHON<tspan dy="12.5" font-size="21">2</tspan></text>
<circle cx="122.5" cy="158.5" r="2.7" fill="#e92e38"/>
<text x="138" y="163.0" font-size="24.8">CHON<tspan dy="12.5" font-size="21">3</tspan></text>
<circle cx="122.5" cy="201.5" r="2.7" fill="#a4563a"/>
<text x="138" y="206.0" font-size="24.8">CHON<tspan dy="12.5" font-size="21">4</tspan></text>
<line x1="699.3" y1="336.8" x2="804.2" y2="264.4" stroke="#000" stroke-width="3.6" stroke-linecap="round"/>
<polygon points="812.8,258.4 805.8,270.2 799.2,260.8" fill="#000"/>
<line x1="699.3" y1="336.8" x2="805.9" y2="358.1" stroke="#000" stroke-width="3.6" stroke-linecap="round"/>
<polygon points="816.2,360.2 802.8,363.4 805.1,352.1" fill="#000"/>
<text transform="translate(712.0,305.8) rotate(-34.7)" font-size="27">+CH<tspan dy="8.5" font-size="20.5">2</tspan></text>
<text transform="translate(718.8,371.5) rotate(11.2)" font-size="27">+O</text>
<g stroke-width="2.1">
<rect x="174.55" y="781.03" width="28.20" height="59.77" fill="#cccccc" stroke="#9e9e9e"/>
<rect x="144.15" y="765.83" width="27.70" height="74.97" fill="#8080ff" stroke="#0000e6"/>
<rect x="267.52" y="720.94" width="28.20" height="119.86" fill="#cccccc" stroke="#9e9e9e"/>
<rect x="237.12" y="656.51" width="27.70" height="184.29" fill="#8080ff" stroke="#0000e6"/>
<rect x="360.49" y="687.64" width="28.20" height="153.16" fill="#cccccc" stroke="#9e9e9e"/>
<rect x="330.09" y="545.73" width="27.70" height="295.07" fill="#8080ff" stroke="#0000e6"/>
<rect x="453.46" y="673.16" width="28.20" height="167.64" fill="#cccccc" stroke="#9e9e9e"/>
<rect x="423.06" y="507.36" width="27.70" height="333.44" fill="#8080ff" stroke="#0000e6"/>
<rect x="546.43" y="773.79" width="28.20" height="67.01" fill="#cccccc" stroke="#9e9e9e"/>
<rect x="516.03" y="505.19" width="27.70" height="335.61" fill="#8080ff" stroke="#0000e6"/>
<rect x="609.00" y="636.23" width="27.70" height="204.57" fill="#8080ff" stroke="#0000e6"/>
<rect x="701.97" y="756.42" width="27.70" height="84.38" fill="#8080ff" stroke="#0000e6"/>
<rect x="794.94" y="811.44" width="27.70" height="29.36" fill="#8080ff" stroke="#0000e6"/>
</g>
<rect x="885.8" y="838.2" width="12" height="2.6" fill="#1010c8"/>
<rect x="899" y="470" width="21" height="380" fill="#fff"/>
<g stroke="#000" stroke-width="2.2" fill="none">
<rect x="99.0" y="478.8" width="799.0" height="362.0"/>
<line x1="173.2" y1="840.8" x2="173.2" y2="832.0"/>
<line x1="173.2" y1="478.8" x2="173.2" y2="487.6"/>
<line x1="266.2" y1="840.8" x2="266.2" y2="832.0"/>
<line x1="266.2" y1="478.8" x2="266.2" y2="487.6"/>
<line x1="359.1" y1="840.8" x2="359.1" y2="832.0"/>
<line x1="359.1" y1="478.8" x2="359.1" y2="487.6"/>
<line x1="452.1" y1="840.8" x2="452.1" y2="832.0"/>
<line x1="452.1" y1="478.8" x2="452.1" y2="487.6"/>
<line x1="545.1" y1="840.8" x2="545.1" y2="832.0"/>
<line x1="545.1" y1="478.8" x2="545.1" y2="487.6"/>
<line x1="638.0" y1="840.8" x2="638.0" y2="832.0"/>
<line x1="638.0" y1="478.8" x2="638.0" y2="487.6"/>
<line x1="731.0" y1="840.8" x2="731.0" y2="832.0"/>
<line x1="731.0" y1="478.8" x2="731.0" y2="487.6"/>
<line x1="824.0" y1="840.8" x2="824.0" y2="832.0"/>
<line x1="824.0" y1="478.8" x2="824.0" y2="487.6"/>
<line x1="99.0" y1="768.4" x2="107.8" y2="768.4"/>
<line x1="898.0" y1="768.4" x2="889.2" y2="768.4"/>
<line x1="99.0" y1="696.0" x2="107.8" y2="696.0"/>
<line x1="898.0" y1="696.0" x2="889.2" y2="696.0"/>
<line x1="99.0" y1="623.6" x2="107.8" y2="623.6"/>
<line x1="898.0" y1="623.6" x2="889.2" y2="623.6"/>
<line x1="99.0" y1="551.2" x2="107.8" y2="551.2"/>
<line x1="898.0" y1="551.2" x2="889.2" y2="551.2"/>
</g>
<g font-size="26" text-anchor="end">
<text transform="translate(90.6,852.4) scale(1,1.06)">0</text>
<text transform="translate(90.6,780.0) scale(1,1.06)">100</text>
<text transform="translate(90.6,707.6) scale(1,1.06)">200</text>
<text transform="translate(90.6,635.2) scale(1,1.06)">300</text>
<text transform="translate(90.6,562.8) scale(1,1.06)">400</text>
<text transform="translate(90.6,490.4) scale(1,1.06)">500</text>
</g>
<text transform="translate(181.0,874.3) rotate(-18.6)" font-size="26.7" text-anchor="end">150-200</text>
<text transform="translate(274.0,874.3) rotate(-18.6)" font-size="26.7" text-anchor="end">200-250</text>
<text transform="translate(366.9,874.3) rotate(-18.6)" font-size="26.7" text-anchor="end">250-300</text>
<text transform="translate(459.9,874.3) rotate(-18.6)" font-size="26.7" text-anchor="end">300-350</text>
<text transform="translate(552.9,874.3) rotate(-18.6)" font-size="26.7" text-anchor="end">350-400</text>
<text transform="translate(645.8,874.3) rotate(-18.6)" font-size="26.7" text-anchor="end">400-450</text>
<text transform="translate(738.8,874.3) rotate(-18.6)" font-size="26.7" text-anchor="end">450-500</text>
<text transform="translate(831.8,874.3) rotate(-18.6)" font-size="26.7" text-anchor="end">500-550</text>
<text x="499" y="940" font-size="29.3" text-anchor="middle">Mass (Da)</text>
<text transform="translate(36,660.5) rotate(-90)" font-size="29.3" text-anchor="middle">Peak number</text>
<text x="-0.2" y="500.2" font-size="28.6" font-weight="bold">(b)</text>
<rect x="108.9" y="494.7" width="26.8" height="16.6" fill="#8080ff" stroke="#0000e6" stroke-width="2.6"/>
<rect x="108.9" y="526.9" width="26.8" height="16.6" fill="#cccccc" stroke="#9e9e9e" stroke-width="2.6"/>
<text x="138.2" y="512.4" font-size="24.6">CI-Orbitrap</text>
<text x="138.2" y="544.4" font-size="24.6">CI-TOF</text>
</g>
</svg>
</body></html>
